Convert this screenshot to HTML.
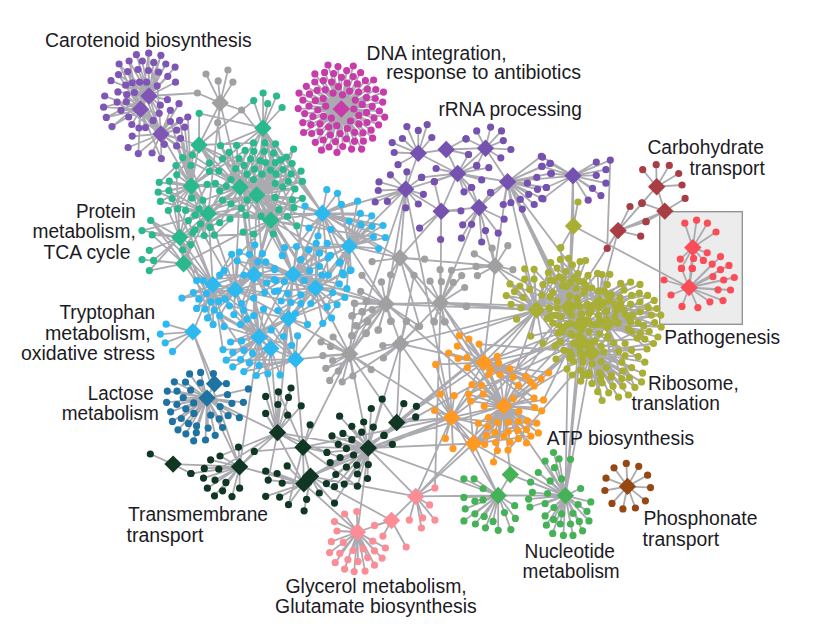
<!DOCTYPE html><html><head><meta charset="utf-8"><title>network</title>
<style>html,body{margin:0;padding:0;background:#fff}svg{display:block}text{font-family:"Liberation Sans",sans-serif;font-size:19.4px;fill:#1c1a24}</style></head><body>
<svg width="828" height="639" viewBox="0 0 828 639">
<rect width="828" height="639" fill="#fff"/>
<rect x="659.7" y="211.7" width="82.6" height="112.6" fill="#ececec" stroke="#8e8e8e" stroke-width="1.3"/>
<path d="M149.0 96.0L136.4 54.7M149.0 96.0L148.7 53.2M149.0 96.0L160.9 55.3M149.0 96.0L119.1 64.0M149.0 96.0L129.1 61.0M149.0 96.0L142.3 61.0M149.0 96.0L153.7 62.4M149.0 96.0L165.8 64.0M149.0 96.0L175.1 67.1M149.0 96.0L118.5 74.6M149.0 96.0L127.7 71.6M149.0 96.0L137.9 69.5M149.0 96.0L148.5 70.5M149.0 96.0L158.6 72.2M149.0 96.0L167.8 76.3M149.0 96.0L175.5 82.2M149.0 96.0L111.0 80.7M149.0 96.0L125.6 85.2M149.0 96.0L132.2 82.8M149.0 96.0L139.5 82.2M149.0 96.0L146.6 82.2M149.0 96.0L157.2 85.8M149.0 96.0L117.9 91.9M149.0 96.0L126.7 94.6M149.0 96.0L134.4 92.5M149.0 96.0L167.4 99.7M149.0 96.0L160.3 105.2M140.5 109.3L104.7 96.0M140.5 109.3L117.1 102.1M140.5 109.3L126.3 101.7M140.5 109.3L103.6 107.2M140.5 109.3L121.0 110.3M140.5 109.3L106.3 117.4M140.5 109.3L112.0 126.6M140.5 109.3L128.7 117.0M140.5 109.3L131.8 124.5M140.5 109.3L138.9 128.0M140.5 109.3L145.4 127.6M140.5 109.3L159.2 113.3M140.5 109.3L153.1 120.4M161.0 134.0L179.0 103.7M161.0 134.0L170.4 110.3M161.0 134.0L187.8 117.0M161.0 134.0L170.4 121.5M161.0 134.0L179.6 120.4M161.0 134.0L184.7 127.2M161.0 134.0L176.6 130.2M161.0 134.0L180.6 138.4M161.0 134.0L176.6 145.9M161.0 134.0L164.3 144.3M161.0 134.0L132.2 136.1M161.0 134.0L128.1 147.5M161.0 134.0L138.3 153.6M161.0 134.0L152.1 153.0M161.0 134.0L161.3 158.7M191.3 186.0L187.8 117.0M191.3 186.0L179.6 120.4M191.3 186.0L184.7 127.2M191.3 186.0L180.6 138.4M191.3 186.0L176.6 145.9M191.3 186.0L170.4 121.5M149.0 96.0L197.4 93.0M241.6 110.0L322.4 213.3M217.7 122.7L220.6 145.7M263.0 128.0L220.6 145.7M220.2 102.9L206.0 74.0M220.2 102.9L227.9 70.0M220.2 102.9L218.2 80.9M220.2 102.9L232.9 82.1M220.2 102.9L197.4 93.0M220.2 102.9L241.6 110.0M220.2 102.9L217.7 122.7M263.0 128.0L253.7 100.6M263.0 128.0L263.1 93.0M263.0 128.0L267.7 103.7M263.0 128.0L276.5 96.0M263.0 128.0L282.1 107.5M199.0 145.0L199.2 113.3M179.7 237.2L150.7 220.4M179.7 237.2L142.0 230.6M179.7 237.2L152.2 234.9M179.7 237.2L149.3 250.3M183.6 263.7L142.0 259.6M183.6 263.7L153.6 260.4M183.6 263.7L149.3 270.6M191.3 186.0L182.7 157.6M191.3 186.0L192.4 155.1M191.3 186.0L176.0 165.5M191.3 186.0L190.9 165.5M191.3 186.0L176.8 174.8M191.3 186.0L159.2 182.3M191.3 186.0L169.3 181.1M191.3 186.0L158.2 192.2M191.3 186.0L168.9 190.7M191.3 186.0L160.4 201.4M191.3 186.0L172.0 198.5M191.3 186.0L168.3 210.5M191.3 186.0L177.8 208.9M191.3 186.0L191.9 198.2M191.3 186.0L202.8 200.4M191.3 186.0L207.2 184.4M191.3 186.0L215.4 183.3M191.3 186.0L209.5 171.4M191.3 186.0L209.5 162.9M208.3 213.6L199.1 208.9M240.0 187.3L220.6 145.7M240.0 187.3L236.6 145.3M240.0 187.3L253.5 142.9M240.0 187.3L264.8 142.9M256.8 195.0L275.5 143.8M256.8 195.0L293.6 149.1M240.0 187.3L229.1 152.3M240.0 187.3L245.1 150.4M240.0 187.3L253.9 151.3M240.0 187.3L264.2 151.3M256.8 195.0L273.6 153.2M256.8 195.0L286.4 157.0M240.0 187.3L222.5 158.8M256.8 195.0L239.1 158.5M240.0 187.3L250.7 158.8M240.0 187.3L260.1 160.7M256.8 195.0L265.8 162.6M240.0 187.3L275.2 162.6M256.8 195.0L280.8 159.8M256.8 195.0L292.1 163.5M256.8 195.0L218.8 171.1M240.0 187.3L235.7 168.6M256.8 195.0L244.1 165.4M240.0 187.3L254.5 169.2M256.8 195.0L262.0 174.2M256.8 195.0L270.5 170.1M256.8 195.0L276.1 174.2M240.0 187.3L283.0 169.5M256.8 195.0L291.1 173.9M256.8 195.0L301.1 171.1M240.0 187.3L231.0 179.5M240.0 187.3L247.0 174.2M240.0 187.3L253.5 179.5M256.8 195.0L275.2 183.3M256.8 195.0L288.3 181.4M256.8 195.0L302.4 181.4M240.0 187.3L226.3 186.1M240.0 187.3L219.7 190.8M256.8 195.0L282.7 187.0M256.8 195.0L294.9 188.9M240.0 187.3L222.5 200.2M240.0 187.3L231.0 203.9M240.0 187.3L247.0 200.2M256.8 195.0L275.2 197.4M270.8 220.3L292.4 199.8M270.8 220.3L302.4 198.3M256.8 195.0L241.3 208.3M270.8 220.3L246.0 215.2M256.8 195.0L261.1 216.2M270.8 220.3L278.9 209.6M256.8 195.0L293.9 207.7M270.8 220.3L287.4 216.5M240.0 187.3L219.7 222.7M256.8 195.0L230.0 219.0M270.8 220.3L243.2 232.1M270.8 220.3L253.5 234.0M270.8 220.3L273.3 234.0M270.8 220.3L296.8 225.9M208.3 213.6L210.0 227.4M208.3 213.6L200.4 223.8M208.3 213.6L195.2 215.2M208.3 213.6L214.3 235.1M208.3 213.6L204.2 235.5M208.3 213.6L194.9 229.9M208.3 213.6L188.3 220.7M208.3 213.6L185.6 210.4M179.7 237.2L192.8 232.6M179.7 237.2L190.7 244.6M179.7 237.2L182.6 250.0M322.4 213.3L326.8 189.7M322.4 213.3L337.5 193.3M322.4 213.3L341.4 204.3M322.4 213.3L357.6 201.2M322.4 213.3L309.0 228.0M322.4 213.3L318.0 236.0M322.4 213.3L305.0 206.0M349.2 246.1L360.3 213.4M349.2 246.1L371.7 215.8M349.2 246.1L349.3 221.1M349.2 246.1L360.8 224.7M349.2 246.1L372.1 226.3M349.2 246.1L383.0 225.5M349.2 246.1L373.3 236.8M349.2 246.1L385.4 237.6M349.2 246.1L378.7 248.6M349.2 246.1L330.9 229.5M349.2 246.1L340.0 262.0M349.2 246.1L351.0 270.0M349.2 246.1L343.5 275.0M349.2 246.1L328.0 258.0M235.2 290.0L254.8 244.8M212.9 284.6L231.7 254.3M235.2 290.0L239.4 252.1M254.0 274.8L249.3 254.3M254.0 274.8L262.4 253.6M254.0 274.8L237.2 260.8M235.2 290.0L258.0 261.9M235.2 290.0L265.7 261.9M254.0 274.8L274.5 269.6M212.9 284.6L224.1 270.7M212.9 284.6L196.6 280.6M212.9 284.6L203.2 280.6M212.9 284.6L219.7 275.1M254.0 274.8L243.8 275.1M254.0 274.8L266.8 282.8M254.0 274.8L274.5 279.5M212.9 284.6L193.4 292.6M212.9 284.6L181.9 298.1M212.9 284.6L198.8 299.2M235.2 290.0L206.5 293.7M235.2 290.0L253.7 298.1M254.0 274.8L264.6 292.6M254.0 274.8L274.5 291.5M212.9 284.6L210.9 301.8M212.9 284.6L218.6 301.4M212.9 284.6L225.1 299.2M212.9 284.6L229.5 305.8M254.0 274.8L241.6 303.6M259.1 337.1L243.8 310.2M212.9 284.6L196.6 308.4M212.9 284.6L204.8 309.1M212.9 284.6L214.2 310.2M235.2 290.0L233.9 314.6M259.1 337.1L253.7 315.7M259.1 337.1L263.5 309.1M212.9 284.6L207.6 317.9M235.2 290.0L219.7 315.7M212.9 284.6L213.1 324.4M259.1 337.1L224.1 326.6M259.1 337.1L240.5 324.4M259.1 337.1L247.1 318.9M259.1 337.1L271.2 329.9M259.1 337.1L230.6 342.0M259.1 337.1L241.6 340.9M270.8 348.5L223.0 349.6M259.1 337.1L232.8 352.5M259.1 337.1L243.8 350.3M259.1 337.1L252.6 353.4M259.1 337.1L226.2 360.2M259.1 337.1L240.5 359.5M270.8 348.5L249.3 362.8M270.8 348.5L232.8 366.8M259.1 337.1L259.1 365.4M270.8 348.5L243.8 371.6M270.8 348.5L256.3 375.5M270.8 348.5L267.9 373.8M293.1 274.4L284.4 247.7M293.1 274.4L296.5 246.6M293.1 274.4L308.6 249.9M315.5 288.0L316.2 243.3M293.1 274.4L327.2 243.3M293.1 274.4L282.3 255.4M315.5 288.0L300.9 259.7M293.1 274.4L319.5 253.2M315.5 288.0L330.5 255.4M315.5 288.0L339.3 263.0M293.1 274.4L274.6 268.5M293.1 274.4L309.7 270.7M293.1 274.4L319.5 266.3M293.1 274.4L328.3 275.1M315.5 288.0L342.6 272.9M315.5 288.0L350.2 270.7M293.1 274.4L275.7 280.6M293.1 274.4L284.4 281.7M315.5 288.0L304.2 280.6M315.5 288.0L321.7 275.1M293.1 274.4L339.3 283.9M315.5 288.0L346.9 288.7M293.1 274.4L277.9 290.9M288.5 318.6L287.7 293.7M293.1 274.4L300.9 294.8M293.1 274.4L332.7 292.6M293.1 274.4L344.8 297.5M293.1 274.4L281.2 301.0M293.1 274.4L291.0 302.5M288.5 318.6L300.9 303.6M315.5 288.0L310.8 303.6M315.5 288.0L327.2 306.9M315.5 288.0L337.1 304.7M288.5 318.6L277.9 310.6M288.5 318.6L295.4 313.5M315.5 288.0L331.6 317.9M288.5 318.6L307.5 324.4M315.5 288.0L322.8 323.3M288.5 318.6L283.4 336.5M295.5 359.4L297.6 335.8M288.5 318.6L291.7 345.3M288.5 318.6L280.1 374.9M192.9 331.8L166.1 324.2M192.9 331.8L160.3 334.1M192.9 331.8L165.2 342.8M192.9 331.8L172.5 351.4M341.3 109.0L353.8 109.0M341.3 109.0L331.4 118.1M341.3 109.0L342.5 94.8M341.3 109.0L350.5 121.0M341.3 109.0L325.7 106.2M341.3 109.0L355.3 100.1M341.3 109.0L336.8 125.7M341.3 109.0L333.0 93.1M341.3 109.0L358.8 115.4M341.3 109.0L323.5 116.3M341.3 109.0L349.7 91.1M341.3 109.0L347.4 128.5M341.3 109.0L323.2 98.5M341.3 109.0L362.3 104.4M341.3 109.0L328.6 127.0M341.3 109.0L338.4 86.6M341.3 109.0L359.0 123.9M341.3 109.0L317.7 110.0M341.3 109.0L358.4 92.0M341.3 109.0L340.2 133.6M341.3 109.0L325.2 89.8M341.3 109.0L366.6 112.4M341.3 109.0L320.0 123.8M341.3 109.0L347.1 83.2M341.3 109.0L354.7 132.3M341.3 109.0L315.3 100.7M341.3 109.0L366.5 97.4M341.3 109.0L330.4 135.0M341.3 109.0L331.6 82.1M341.3 109.0L367.0 122.5M341.3 109.0L312.9 116.5M341.3 109.0L357.4 83.9M341.3 109.0L346.4 138.8M341.3 109.0L317.1 90.3M341.3 109.0L372.2 106.4M341.3 109.0L320.0 132.0M341.3 109.0L341.5 77.3M341.3 109.0L362.9 132.8M341.3 109.0L309.0 106.0M341.3 109.0L367.4 89.2M341.3 109.0L335.4 141.6M341.3 109.0L323.4 80.6M341.3 109.0L374.0 118.0M341.3 109.0L310.8 124.6M341.3 109.0L353.3 76.6M341.3 109.0L354.5 141.3M341.3 109.0L309.5 93.9M341.3 109.0L375.3 98.5M341.3 109.0L323.1 140.0M341.3 109.0L333.7 73.6M341.3 109.0L371.1 130.2M341.3 109.0L304.7 113.6M341.3 109.0L365.4 80.7M341.3 109.0L342.7 146.5M341.3 109.0L314.8 82.0M341.3 109.0L379.4 111.0M341.3 109.0L311.7 133.5M341.3 109.0L346.7 70.6M341.3 109.0L363.4 141.2M341.3 109.0L302.9 100.2M341.3 109.0L375.8 89.5M341.3 109.0L329.0 147.0M341.3 109.0L324.6 72.4M341.3 109.0L378.6 124.8M341.3 109.0L302.8 122.6M341.3 109.0L360.6 72.7M341.3 109.0L351.6 149.1M341.3 109.0L306.3 86.3M341.3 109.0L382.7 102.1M341.3 109.0L315.3 142.3M341.3 109.0L338.0 66.6M341.3 109.0L372.6 138.2M341.3 109.0L298.2 108.6M341.3 109.0L373.6 80.0M341.3 109.0L337.0 152.4M341.3 109.0L314.9 73.9M341.3 109.0L384.7 117.1M341.3 109.0L303.6 132.5M341.3 109.0L353.3 66.0M341.3 109.0L361.6 149.1M341.3 109.0L299.0 93.1M341.3 109.0L383.5 92.1M341.3 109.0L321.5 150.2M341.3 109.0L328.0 65.0M207.0 398.1L189.6 373.9M207.0 398.1L200.6 372.4M207.0 398.1L174.3 381.8M207.0 398.1L185.5 382.2M207.0 398.1L200.3 382.8M207.0 398.1L167.3 391.1M207.0 398.1L177.0 391.1M207.0 398.1L190.7 390.2M207.0 398.1L227.5 394.7M207.0 398.1L248.4 388.9M207.0 398.1L183.2 397.7M207.0 398.1L166.6 402.3M207.0 398.1L176.9 404.5M207.0 398.1L193.7 402.9M207.0 398.1L231.9 403.3M207.0 398.1L243.4 402.3M207.0 398.1L220.1 406.6M207.0 398.1L170.6 411.8M207.0 398.1L185.8 408.8M207.0 398.1L193.9 413.4M207.0 398.1L210.7 415.2M207.0 398.1L228.1 415.7M207.0 398.1L239.4 417.7M207.0 398.1L219.2 418.9M207.0 398.1L181.3 418.5M207.0 398.1L172.4 421.4M207.0 398.1L188.4 423.4M207.0 398.1L196.6 425.9M207.0 398.1L208.1 428.1M207.0 398.1L222.6 427.5M207.0 398.1L178.0 429.8M207.0 398.1L185.9 433.8M207.0 398.1L196.3 432.7M207.0 398.1L215.2 435.3M207.0 398.1L193.7 440.8M207.0 398.1L205.5 440.0M214.5 383.7L213.4 373.6M214.5 383.7L226.4 383.7M627.5 486.4L626.3 463.4M627.5 486.4L638.7 466.3M627.5 486.4L647.6 475.2M627.5 486.4L650.5 487.6M627.5 486.4L645.4 500.8M627.5 486.4L635.4 508.0M627.5 486.4L622.9 508.9M627.5 486.4L612.0 503.4M627.5 486.4L604.9 490.5M627.5 486.4L606.0 478.2M627.5 486.4L614.0 467.8M418.3 153.3L406.9 126.6M418.3 153.3L418.3 130.4M418.3 153.3L427.2 124.6M418.3 153.3L431.8 137.5M418.3 153.3L402.4 138.5M418.3 153.3L392.2 142.6M418.3 153.3L394.2 152.5M418.3 153.3L398.0 164.7M446.2 149.5L466.0 138.8M446.2 149.5L468.5 154.5M485.5 148.2L476.7 130.9M485.5 148.2L490.6 127.1M485.5 148.2L501.5 130.9M485.5 148.2L503.3 140.6M485.5 148.2L510.9 149.5M485.5 148.2L500.8 157.8M485.5 148.2L476.7 165.9M485.5 148.2L466.0 138.8M457.6 173.5L436.1 168.5M457.6 173.5L421.6 177.4M457.6 173.5L434.3 181.7M457.6 173.5L476.7 165.4M457.6 173.5L488.8 167.7M457.6 173.5L481.7 179.9M457.6 173.5L471.6 187.5M457.6 173.5L464.0 191.8M457.6 173.5L468.5 154.5M405.7 189.3L390.4 174.8M405.7 189.3L379.0 181.9M405.7 189.3L378.3 190.5M405.7 189.3L375.2 202.0M405.7 189.3L387.4 201.4M405.7 189.3L405.7 207.8M405.7 189.3L418.3 204.0M405.7 189.3L423.4 194.3M405.7 189.3L406.9 171.8M405.7 189.3L421.6 177.4M507.6 181.7L541.3 156.3M507.6 181.7L550.2 163.4M507.6 181.7L541.8 166.4M507.6 181.7L550.7 173.5M507.6 181.7L536.8 177.4M507.6 181.7L546.4 187.5M507.6 181.7L527.4 183.2M507.6 181.7L537.5 189.3M507.6 181.7L528.7 194.3M507.6 181.7L541.8 198.4M507.6 181.7L520.3 199.4M507.6 181.7L534.2 204.5M507.6 181.7L522.3 209.1M507.6 181.7L510.9 202.7M507.6 181.7L503.3 204.5M507.6 181.7L490.6 192.6M441.2 211.2L419.6 228.1M441.2 211.2L440.6 239.5M441.2 211.2L460.9 210.8M441.2 211.2L434.3 181.7M479.0 207.5L462.7 224.8M479.0 207.5L461.4 238.2M479.0 207.5L471.6 224.3M479.0 207.5L481.7 242.0M479.0 207.5L485.5 230.6M479.0 207.5L498.2 233.1M479.0 207.5L504.1 219.2M479.0 207.5L490.6 192.6M479.0 207.5L471.6 187.5M573.0 175.8L542.5 157.1M573.0 175.8L550.1 163.4M573.0 175.8L542.0 166.4M573.0 175.8L551.4 173.5M573.0 175.8L546.3 187.5M573.0 175.8L543.0 198.9M573.0 175.8L596.3 162.1M573.0 175.8L610.3 160.1M573.0 175.8L605.9 169.7M573.0 175.8L596.3 175.3M573.0 175.8L605.9 183.2M573.0 175.8L592.5 188.3M573.0 175.8L600.9 195.6M573.0 175.8L588.2 200.2M573.5 226.0L578.0 202.0M573.5 226.0L560.8 247.6M656.7 186.7L642.7 169.7M656.7 186.7L656.2 164.7M656.7 186.7L669.3 165.4M656.7 186.7L678.7 173.5M656.7 186.7L682.0 185.0M656.7 186.7L642.0 203.2M664.8 211.1L685.1 198.4M664.8 211.1L642.0 203.2M664.8 211.1L646.0 221.7M618.1 230.6L630.0 206.5M618.1 230.6L642.0 203.2M618.1 230.6L646.0 221.7M618.1 230.6L640.7 236.2M618.1 230.6L607.2 248.4M692.8 247.6L684.8 223.2M692.8 247.6L696.6 220.2M692.8 247.6L707.4 223.2M692.8 247.6L716.0 232.0M692.8 247.6L707.2 252.8M692.8 247.6L680.3 259.1M692.8 247.6L693.6 258.4M692.8 247.6L703.4 260.4M692.8 247.6L681.5 268.4M692.8 247.6L692.3 268.4M689.1 287.5L720.5 256.6M689.1 287.5L712.2 264.1M689.1 287.5L720.5 269.7M689.1 287.5L729.0 265.4M689.1 287.5L712.9 276.7M689.1 287.5L723.7 280.0M689.1 287.5L734.3 277.5M689.1 287.5L718.0 289.8M689.1 287.5L730.5 290.0M689.1 287.5L709.9 301.8M689.1 287.5L723.0 300.6M689.1 287.5L697.9 307.6M689.1 287.5L682.0 306.4M689.1 287.5L671.0 295.0M689.1 287.5L664.0 280.0M689.1 287.5L681.5 268.4M689.1 287.5L692.3 268.4M400.0 257.8L372.1 261.6M400.0 257.8L424.6 259.1M400.0 257.8L390.6 274.8M400.0 257.8L414.0 275.3M386.1 304.0L362.0 275.3M386.1 304.0L360.7 291.3M386.1 304.0L354.4 303.2M386.1 304.0L366.3 301.4M386.1 304.0L362.0 311.6M386.1 304.0L372.1 309.6M386.1 304.0L351.8 315.9M386.1 304.0L367.8 321.2M386.1 304.0L356.9 326.0M386.1 304.0L378.5 329.9M386.1 304.0L365.8 333.7M386.1 304.0L351.8 335.7M386.1 304.0L391.2 321.2M386.1 304.0L406.4 321.2M386.1 304.0L419.6 326.3M386.1 304.0L381.5 281.9M440.6 302.7L440.1 269.7M440.6 302.7L451.5 270.3M440.6 302.7L461.7 275.6M440.6 302.7L430.0 281.2M440.6 302.7L441.4 281.7M440.6 302.7L453.3 282.4M440.6 302.7L464.7 287.5M440.6 302.7L466.7 306.0M440.6 302.7L433.8 321.2M440.6 302.7L444.4 321.7M495.0 266.0L474.3 253.8M495.0 266.0L492.1 248.2M495.0 266.0L507.8 245.7M495.0 266.0L476.1 266.4M495.0 266.0L477.4 275.6M495.0 266.0L512.9 269.7M400.5 343.8L406.4 321.3M400.5 343.8L418.2 326.7M400.5 343.8L382.8 345.5M400.5 343.8L383.4 358.0M349.6 354.0L333.1 337.0M349.6 354.0L321.0 341.8M349.6 354.0L330.6 346.4M349.6 354.0L322.9 355.7M349.6 354.0L332.6 360.5M349.6 354.0L325.8 368.3M349.6 354.0L338.4 371.2M349.6 354.0L329.7 380.4M349.6 354.0L342.2 381.8M349.6 354.0L352.9 376.0M349.6 354.0L371.2 369.6M349.6 354.0L351.9 335.8M349.6 354.0L366.4 332.9M386.1 304.0L354.8 303.5M386.1 304.0L366.4 301.6M386.1 304.0L352.5 315.7M386.1 304.0L362.5 312.2M386.1 304.0L355.7 325.7M386.1 304.0L367.3 321.9M386.1 304.0L378.0 330.2M386.1 304.0L390.5 321.3M440.6 302.7L434.4 321.9M440.6 302.7L445.2 321.9M440.6 302.7L466.3 306.4M173.1 464.1L150.3 454.0M173.1 464.1L190.9 473.5M239.6 466.7L190.9 473.5M239.6 466.7L238.5 447.1M239.6 466.7L254.3 451.4M239.6 466.7L220.0 456.0M239.6 466.7L210.6 459.8M239.6 466.7L204.3 468.4M239.6 466.7L218.8 469.2M239.6 466.7L203.5 478.1M239.6 466.7L215.0 480.1M239.6 466.7L225.9 482.4M239.6 466.7L207.4 488.2M239.6 466.7L222.6 490.8M239.6 466.7L214.5 495.8M239.6 466.7L232.0 496.6M239.6 466.7L239.6 488.2M277.5 432.6L265.7 396.4M277.5 432.6L278.4 391.8M277.5 432.6L291.0 388.0M277.5 432.6L288.5 397.4M277.5 432.6L277.9 404.5M277.5 432.6L265.7 413.4M277.5 432.6L287.7 415.2M277.5 432.6L301.2 405.8M303.0 447.2L310.1 424.8M303.8 483.7L265.7 471.2M303.8 483.7L277.1 473.5M303.8 483.7L287.2 465.9M303.8 483.7L268.2 480.1M303.8 483.7L282.2 483.1M303.8 483.7L265.7 496.3M303.8 483.7L279.6 497.1M303.8 483.7L288.5 504.7M310.5 476.3L319.3 493.0M310.5 476.3L304.1 510.8M310.5 476.3L334.5 503.1M310.5 476.3L306.6 499.3M368.3 448.1L339.6 416.2M368.3 448.1L351.8 426.3M368.3 448.1L363.7 422.0M368.3 448.1L373.3 427.1M368.3 448.1L332.0 435.9M368.3 448.1L342.9 433.4M368.3 448.1L361.7 432.1M368.3 448.1L351.8 439.7M368.3 448.1L338.3 444.3M368.3 448.1L346.4 448.6M368.3 448.1L326.9 452.4M368.3 448.1L353.5 455.0M368.3 448.1L340.1 457.5M368.3 448.1L330.2 462.6M368.3 448.1L346.4 467.1M368.3 448.1L356.8 465.1M368.3 448.1L368.3 464.6M368.3 448.1L335.8 474.5M368.3 448.1L357.4 474.0M368.3 448.1L367.5 478.5M368.3 448.1L326.4 483.6M368.3 448.1L334.5 486.7M368.3 448.1L344.2 484.1M368.3 448.1L357.4 486.2M368.3 448.1L384.0 435.4M368.3 448.1L392.4 444.3M368.3 448.1L371.3 408.5M368.3 448.1L382.2 399.2M396.7 422.5L403.8 403.7M396.7 422.5L416.4 406.3M396.7 422.5L415.7 416.9M396.7 422.5L384.0 435.4M483.9 362.6L459.3 335.7M483.9 362.6L468.9 339.0M483.9 362.6L479.1 344.1M483.9 362.6L457.3 346.1M483.9 362.6L448.7 353.0M483.9 362.6L458.0 358.5M483.9 362.6L466.9 357.5M483.9 362.6L435.7 364.4M483.9 362.6L467.4 367.7M483.9 362.6L497.4 356.3M483.9 362.6L498.6 363.1M483.9 362.6L491.0 369.5M483.9 362.6L489.0 374.5M483.9 362.6L499.9 374.5M483.9 362.6L510.0 368.9M483.9 362.6L513.3 377.1M483.9 362.6L526.0 376.3M483.9 362.6L518.4 385.4M483.9 362.6L530.3 381.6M483.9 362.6L534.1 385.9M483.9 362.6L541.0 379.1M483.9 362.6L548.6 372.8M503.7 405.9L472.0 384.7M503.7 405.9L481.6 385.4M503.7 405.9L468.7 394.1M503.7 405.9L483.4 394.1M503.7 405.9L470.7 401.2M503.7 405.9L484.2 406.2M503.7 405.9L513.3 398.6M503.7 405.9L534.1 398.1M503.7 405.9L543.5 399.9M503.7 405.9L534.6 407.5M503.7 405.9L541.7 410.8M503.7 405.9L518.9 411.3M503.7 405.9L488.5 417.6M503.7 405.9L478.3 423.5M503.7 405.9L487.7 426.5M503.7 405.9L497.4 422.7M503.7 405.9L508.3 422.2M503.7 405.9L518.4 421.4M503.7 405.9L527.3 420.9M503.7 405.9L536.7 423.2M503.7 405.9L486.4 435.4M503.7 405.9L494.8 432.4M503.7 405.9L503.7 436.2M503.7 405.9L508.3 431.6M503.7 405.9L517.6 430.3M503.7 405.9L526.5 429.6M503.7 405.9L538.4 432.9M503.7 405.9L530.8 436.2M503.7 405.9L484.7 444.3M503.7 405.9L495.6 442.5M503.7 405.9L510.0 442.2M503.7 405.9L518.4 438.7M503.7 405.9L526.5 443.0M503.7 405.9L497.4 450.6M503.7 405.9L508.0 450.1M503.7 405.9L493.5 462.0M451.5 417.4L440.3 394.1M451.5 417.4L454.2 395.6M451.5 417.4L434.5 410.5M451.5 417.4L445.4 438.4M451.5 417.4L453.0 448.6M415.8 496.4L434.9 487.9M415.8 496.4L429.6 504.9M415.8 496.4L422.7 517.8M415.8 496.4L434.9 520.1M415.8 496.4L409.3 520.1M415.8 496.4L421.4 528.0M391.5 520.5L374.5 525.4M391.5 520.5L406.2 547.0M391.5 520.5L382.9 536.1M357.5 532.0L344.6 514.0M357.5 532.0L356.8 511.5M357.5 532.0L334.5 521.6M357.5 532.0L337.0 531.0M357.5 532.0L331.4 541.7M357.5 532.0L343.3 542.4M357.5 532.0L329.6 552.6M357.5 532.0L339.8 553.3M357.5 532.0L353.0 550.5M357.5 532.0L363.1 548.8M357.5 532.0L372.8 541.2M357.5 532.0L385.4 548.0M357.5 532.0L374.5 550.8M357.5 532.0L335.2 562.7M357.5 532.0L347.9 559.7M357.5 532.0L358.0 561.4M357.5 532.0L367.7 557.6M357.5 532.0L382.1 558.1M357.5 532.0L374.5 565.2M357.5 532.0L344.6 569.1M357.5 532.0L354.2 571.6M357.5 532.0L365.1 571.1M565.4 495.6L553.5 452.5M565.4 495.6L559.1 458.8M565.4 495.6L570.5 459.3M565.4 495.6L545.1 461.1M565.4 495.6L554.5 467.7M565.4 495.6L538.3 472.5M565.4 495.6L530.6 482.1M565.4 495.6L550.2 480.9M565.4 495.6L561.6 478.8M565.4 495.6L580.6 488.5M565.4 495.6L532.4 492.3M565.4 495.6L547.6 493.5M565.4 495.6L528.6 499.1M565.4 495.6L545.1 503.7M565.4 495.6L590.8 501.9M565.4 495.6L529.9 507.0M565.4 495.6L554.0 507.5M565.4 495.6L578.1 504.5M565.4 495.6L587.0 511.3M565.4 495.6L545.1 515.9M565.4 495.6L561.6 513.8M565.4 495.6L573.0 513.3M565.4 495.6L553.5 519.4M565.4 495.6L589.0 520.9M565.4 495.6L546.4 525.2M565.4 495.6L560.3 524.0M565.4 495.6L570.5 524.0M565.4 495.6L579.3 521.4M565.4 495.6L552.7 533.4M565.4 495.6L563.4 535.4M565.4 495.6L573.0 535.4M565.4 495.6L582.6 530.8M498.2 495.5L463.9 478.8M498.2 495.5L474.1 478.8M498.2 495.5L483.0 488.5M498.2 495.5L463.9 497.4M498.2 495.5L474.9 501.2M498.2 495.5L483.0 499.9M498.2 495.5L465.2 508.8M498.2 495.5L474.9 513.8M498.2 495.5L484.2 516.4M498.2 495.5L463.9 520.9M498.2 495.5L475.4 524.0M498.2 495.5L485.5 527.8M498.2 495.5L493.1 521.4M498.2 495.5L504.5 512.6M498.2 495.5L514.7 505.7M498.2 495.5L515.4 518.4M498.2 495.5L498.2 530.3M498.2 495.5L510.9 529.6M568.8 307.2L560.4 247.8M536.6 310.0L550.6 262.7M568.8 307.2L560.4 259.4M568.8 307.2L568.5 258.3M568.8 307.2L580.1 261.6M568.8 307.2L585.6 260.5M536.6 310.0L524.7 268.8M536.6 310.0L534.1 269.3M536.6 310.0L548.4 272.6M568.8 307.2L557.1 268.2M568.8 307.2L565.9 271.5M568.8 307.2L572.4 264.9M568.8 307.2L577.9 273.7M536.6 310.0L524.7 279.1M536.6 310.0L534.1 279.1M536.6 310.0L550.1 280.2M568.8 307.2L559.3 276.9M568.8 307.2L570.3 282.4M568.8 307.2L579.0 281.3M536.6 310.0L510.0 283.9M536.6 310.0L519.9 286.1M536.6 310.0L529.7 289.4M536.6 310.0L542.9 284.6M568.8 307.2L552.7 292.3M568.8 307.2L562.6 285.7M568.8 307.2L584.5 290.1M536.6 310.0L506.3 295.6M536.6 310.0L514.4 291.6M536.6 310.0L523.2 297.3M536.6 310.0L541.8 294.9M568.8 307.2L557.1 301.0M536.6 310.0L511.1 304.3M536.6 310.0L521.0 308.0M536.6 310.0L549.5 308.7M536.6 310.0L516.6 319.2M536.6 310.0L547.3 318.5M568.8 307.2L556.0 315.3M581.4 341.4L552.7 322.9M581.4 341.4L563.7 327.3M536.6 310.0L530.8 336.1M581.4 341.4L558.2 332.8M581.4 341.4L572.4 335.0M536.6 310.0L542.9 343.3M581.4 341.4L554.9 345.9M581.4 341.4L573.5 343.7M581.4 341.4L556.0 359.0M581.4 341.4L571.4 355.1M581.4 341.4L582.3 356.9M581.4 341.4L567.0 368.9M581.4 341.4L584.5 374.4M599.2 303.4L602.1 274.6M599.2 303.4L620.7 283.3M599.2 303.4L630.6 282.2M599.2 303.4L640.0 284.4M599.2 303.4L604.3 291.0M599.2 303.4L611.3 294.3M599.2 303.4L624.0 289.9M599.2 303.4L631.6 295.4M599.2 303.4L639.3 293.2M599.2 303.4L647.6 295.4M606.8 323.7L654.2 300.4M606.8 323.7L609.7 300.8M606.8 323.7L620.7 303.0M606.8 323.7L630.6 304.1M606.8 323.7L640.0 301.9M606.8 323.7L648.1 307.4M606.8 323.7L656.8 308.5M606.8 323.7L616.3 310.7M606.8 323.7L625.1 314.0M606.8 323.7L632.7 315.1M606.8 323.7L640.4 311.8M606.8 323.7L651.4 315.1M606.8 323.7L660.8 315.1M606.8 323.7L630.6 321.6M606.8 323.7L638.2 322.7M606.8 323.7L643.7 326.0M606.8 323.7L654.6 322.7M606.8 323.7L661.2 327.1M606.8 323.7L631.6 331.5M606.8 323.7L640.4 333.7M606.8 323.7L649.2 331.5M606.8 323.7L657.9 337.0M606.8 323.7L637.1 338.1M606.8 323.7L644.8 339.2M606.8 323.7L653.5 343.5M591.6 352.9L647.0 349.0M606.8 323.7L625.1 343.5M591.6 352.9L631.6 350.1M591.6 352.9L638.2 356.7M591.6 352.9L644.8 362.2M591.6 352.9L618.5 351.2M591.6 352.9L625.1 355.6M591.6 352.9L631.6 367.6M591.6 352.9L642.6 373.1M591.6 352.9L641.5 381.9M591.6 352.9L621.8 362.2M591.6 352.9L622.9 370.9M591.6 352.9L629.5 377.5M591.6 352.9L634.9 387.3M591.6 352.9L621.8 378.6M591.6 352.9L583.5 375.3M591.6 352.9L588.9 375.3M591.6 352.9L601.0 375.3M591.6 352.9L610.8 377.5M591.6 352.9L602.1 383.0M591.6 352.9L613.0 386.2M591.6 352.9L622.9 386.2M591.6 352.9L597.7 391.7M591.6 352.9L608.7 392.8M591.6 352.9L618.5 397.2M591.6 352.9L628.4 395.0M591.6 352.9L602.1 400.5M568.8 307.2L580.1 306.5M568.8 307.2L561.3 316.5M568.8 307.2L557.2 307.9M568.8 307.2L569.8 295.9M568.8 307.2L577.2 297.9M568.8 307.2L588.8 312.9M568.8 307.2L584.3 320.9M568.8 307.2L576.8 326.0M568.8 307.2L550.9 316.1M568.8 307.2L549.0 307.6M568.8 307.2L550.3 296.6M568.8 307.2L566.6 286.4M568.8 307.2L576.1 288.5M568.8 307.2L583.8 292.7M568.8 307.2L554.0 280.6M568.8 307.2L562.7 278.6M568.8 307.2L573.9 277.9M568.8 307.2L583.6 282.2M568.8 307.2L591.9 288.0M599.2 303.4L606.9 310.7M599.2 303.4L598.4 315.3M599.2 303.4L590.9 311.5M599.2 303.4L587.3 304.1M599.2 303.4L598.6 290.9M599.2 303.4L607.7 295.1M599.2 303.4L620.6 308.3M599.2 303.4L614.9 317.4M599.2 303.4L606.5 323.1M599.2 303.4L597.7 324.7M599.2 303.4L588.3 320.1M599.2 303.4L581.7 314.0M599.2 303.4L586.2 285.5M599.2 303.4L607.3 284.7M599.2 303.4L620.0 297.5M599.2 303.4L588.0 275.4M599.2 303.4L597.6 273.4M599.2 303.4L609.8 274.3M580.2 325.0L592.2 324.6M580.2 325.0L570.6 333.6M580.2 325.0L567.0 324.6M580.2 325.0L571.7 315.5M580.2 325.0L580.9 314.1M580.2 325.0L587.1 343.7M580.2 325.0L578.7 346.6M580.2 325.0L559.4 325.5M580.2 325.0L577.5 303.1M580.2 325.0L588.0 306.1M580.2 325.0L599.5 320.8M581.4 341.4L593.0 341.5M581.4 341.4L589.3 349.0M581.4 341.4L580.8 352.5M581.4 341.4L580.9 330.0M581.4 341.4L601.0 346.1M581.4 341.4L569.6 357.9M581.4 341.4L563.8 350.2M581.4 341.4L560.2 341.4M581.4 341.4L562.5 331.7M581.4 341.4L570.6 323.7M581.4 341.4L579.4 320.9M581.4 341.4L588.5 320.7M606.8 323.7L618.2 322.9M606.8 323.7L607.7 336.1M606.8 323.7L606.0 311.6M606.8 323.7L628.3 328.8M606.8 323.7L613.8 343.0M606.8 323.7L594.8 341.0M606.8 323.7L584.6 323.1M606.8 323.7L593.8 305.3M606.8 323.7L603.6 303.1M606.8 323.7L614.8 304.4M606.8 323.7L623.4 309.5M606.8 323.7L628.4 317.8M591.6 352.9L603.9 351.8M591.6 352.9L601.0 361.7M591.6 352.9L592.3 364.0M591.6 352.9L583.1 362.2M591.6 352.9L580.4 353.1M591.6 352.9L583.6 344.9M591.6 352.9L606.4 367.6M591.6 352.9L599.4 372.8M591.6 352.9L589.0 372.6M591.6 352.9L580.3 370.2M591.6 352.9L573.4 361.6M591.6 352.9L570.0 351.9M591.6 352.9L579.0 336.2M591.6 352.9L589.1 331.8M591.6 352.9L599.5 333.9M591.6 352.9L607.7 338.0M591.6 352.9L611.5 375.4M591.6 352.9L600.7 380.0M591.6 352.9L592.0 383.4M591.6 352.9L580.8 381.1M591.6 352.9L572.2 375.0M149.0 96.0L140.5 109.3M149.0 96.0L161.0 134.0M140.5 109.3L161.0 134.0M161.0 134.0L191.3 186.0M161.0 134.0L199.0 145.0M161.0 134.0L240.0 187.3M220.2 102.9L199.0 145.0M220.2 102.9L240.0 187.3M220.2 102.9L208.3 213.6M199.0 145.0L191.3 186.0M199.0 145.0L240.0 187.3M263.0 128.0L240.0 187.3M263.0 128.0L256.8 195.0M263.0 128.0L191.3 186.0M263.0 128.0L322.4 213.3M263.0 128.0L270.8 220.3M191.3 186.0L240.0 187.3M191.3 186.0L208.3 213.6M191.3 186.0L179.7 237.2M240.0 187.3L256.8 195.0M240.0 187.3L208.3 213.6M240.0 187.3L270.8 220.3M256.8 195.0L270.8 220.3M208.3 213.6L179.7 237.2M208.3 213.6L183.6 263.7M179.7 237.2L183.6 263.7M208.3 213.6L270.8 220.3M256.8 195.0L293.1 274.4M256.8 195.0L254.0 274.8M270.8 220.3L293.1 274.4M270.8 220.3L254.0 274.8M240.0 187.3L254.0 274.8M240.0 187.3L235.2 290.0M208.3 213.6L212.9 284.6M208.3 213.6L235.2 290.0M183.6 263.7L212.9 284.6M179.7 237.2L212.9 284.6M256.8 195.0L322.4 213.3M270.8 220.3L322.4 213.3M256.8 195.0L315.5 288.0M240.0 187.3L259.1 337.1M322.4 213.3L349.2 246.1M322.4 213.3L405.7 189.3M349.2 246.1L405.7 189.3M322.4 213.3L293.1 274.4M349.2 246.1L293.1 274.4M349.2 246.1L315.5 288.0M212.9 284.6L235.2 290.0M235.2 290.0L254.0 274.8M254.0 274.8L293.1 274.4M293.1 274.4L315.5 288.0M293.1 274.4L288.5 318.6M315.5 288.0L288.5 318.6M235.2 290.0L259.1 337.1M254.0 274.8L259.1 337.1M288.5 318.6L259.1 337.1M288.5 318.6L270.8 348.5M259.1 337.1L270.8 348.5M270.8 348.5L295.5 359.4M288.5 318.6L295.5 359.4M212.9 284.6L192.9 331.8M192.9 331.8L214.5 383.7M212.9 284.6L259.1 337.1M254.0 274.8L288.5 318.6M235.2 290.0L288.5 318.6M315.5 288.0L386.1 304.0M315.5 288.0L349.6 354.0M288.5 318.6L349.6 354.0M295.5 359.4L349.6 354.0M349.2 246.1L400.0 257.8M349.2 246.1L386.1 304.0M293.1 274.4L386.1 304.0M322.4 213.3L400.0 257.8M418.3 153.3L446.2 149.5M446.2 149.5L485.5 148.2M418.3 153.3L457.6 173.5M446.2 149.5L457.6 173.5M485.5 148.2L457.6 173.5M418.3 153.3L405.7 189.3M457.6 173.5L405.7 189.3M457.6 173.5L507.6 181.7M485.5 148.2L507.6 181.7M457.6 173.5L441.2 211.2M457.6 173.5L479.0 207.5M405.7 189.3L441.2 211.2M507.6 181.7L479.0 207.5M441.2 211.2L479.0 207.5M507.6 181.7L573.0 175.8M405.7 189.3L400.0 257.8M405.7 189.3L386.1 304.0M441.2 211.2L400.0 257.8M441.2 211.2L440.6 302.7M479.0 207.5L440.6 302.7M479.0 207.5L495.0 266.0M507.6 181.7L495.0 266.0M405.7 189.3L349.6 354.0M507.6 181.7L536.6 310.0M507.6 181.7L568.8 307.2M507.6 181.7L580.2 325.0M507.6 181.7L581.4 341.4M507.6 181.7L599.2 303.4M573.0 175.8L573.5 226.0M573.0 175.8L568.8 307.2M573.5 226.0L568.8 307.2M573.5 226.0L689.1 287.5M618.1 230.6L599.2 303.4M618.1 230.6L568.8 307.2M656.7 186.7L664.8 211.1M656.7 186.7L618.1 230.6M664.8 211.1L618.1 230.6M692.8 247.6L689.1 287.5M400.0 257.8L386.1 304.0M400.0 257.8L440.6 302.7M400.0 257.8L495.0 266.0M386.1 304.0L440.6 302.7M386.1 304.0L400.5 343.8M386.1 304.0L349.6 354.0M440.6 302.7L400.5 343.8M440.6 302.7L536.6 310.0M386.1 304.0L536.6 310.0M495.0 266.0L536.6 310.0M495.0 266.0L568.8 307.2M440.6 302.7L568.8 307.2M400.5 343.8L536.6 310.0M440.6 302.7L483.9 362.6M440.6 302.7L503.7 405.9M400.5 343.8L483.9 362.6M386.1 304.0L503.7 405.9M400.5 343.8L451.5 417.4M495.0 266.0L483.9 362.6M400.0 257.8L503.7 405.9M483.9 362.6L503.7 405.9M483.9 362.6L451.5 417.4M503.7 405.9L451.5 417.4M503.7 405.9L473.5 443.5M451.5 417.4L473.5 443.5M483.9 362.6L536.6 310.0M483.9 362.6L580.2 325.0M483.9 362.6L581.4 341.4M503.7 405.9L580.2 325.0M503.7 405.9L581.4 341.4M503.7 405.9L591.6 352.9M503.7 405.9L536.6 310.0M503.7 405.9L568.8 307.2M503.7 405.9L606.8 323.7M451.5 417.4L536.6 310.0M473.5 443.5L581.4 341.4M503.7 405.9L510.3 474.6M503.7 405.9L565.4 495.6M473.5 443.5L498.2 495.5M473.5 443.5L565.4 495.6M451.5 417.4L498.2 495.5M451.5 417.4L415.8 496.4M473.5 443.5L415.8 496.4M510.3 474.6L498.2 495.5M510.3 474.6L565.4 495.6M498.2 495.5L565.4 495.6M581.4 341.4L565.4 495.6M591.6 352.9L565.4 495.6M580.2 325.0L565.4 495.6M568.8 307.2L565.4 495.6M173.1 464.1L239.6 466.7M239.6 466.7L277.5 432.6M239.6 466.7L303.8 483.7M277.5 432.6L303.0 447.2M303.0 447.2L303.8 483.7M303.0 447.2L310.5 476.3M277.5 432.6L368.3 448.1M303.0 447.2L368.3 448.1M310.5 476.3L368.3 448.1M368.3 448.1L396.7 422.5M303.8 483.7L357.5 532.0M310.5 476.3L391.5 520.5M368.3 448.1L415.8 496.4M368.3 448.1L357.5 532.0M310.5 476.3L415.8 496.4M277.5 432.6L207.0 398.1M239.6 466.7L207.0 398.1M277.5 432.6L259.1 337.1M277.5 432.6L270.8 348.5M303.0 447.2L295.5 359.4M368.3 448.1L349.6 354.0M368.3 448.1L400.5 343.8M396.7 422.5L400.5 343.8M396.7 422.5L483.9 362.6M396.7 422.5L451.5 417.4M368.3 448.1L451.5 417.4M368.3 448.1L503.7 405.9M368.3 448.1L473.5 443.5M310.5 476.3L451.5 417.4M303.0 447.2L349.6 354.0M415.8 496.4L391.5 520.5M391.5 520.5L357.5 532.0M415.8 496.4L498.2 495.5M415.8 496.4L503.7 405.9M368.3 448.1L536.6 310.0M396.7 422.5L536.6 310.0M310.5 476.3L580.2 325.0M368.3 448.1L498.2 495.5M303.0 447.2L451.5 417.4M214.5 383.7L207.0 398.1M277.5 432.6L288.5 318.6M349.6 354.0L451.5 417.4M349.6 354.0L396.7 422.5M259.1 337.1L239.6 466.7M192.9 331.8L239.6 466.7M610.3 160.1L607.2 248.4M440.6 302.7L434.9 487.9M405.7 189.3L451.5 417.4M263.0 128.0L199.2 113.3M179.7 237.2L176.0 165.5M270.8 220.3L275.2 197.4M240.0 187.3L286.4 157.0M256.8 195.0L194.9 229.9M256.8 195.0L222.5 200.2M191.3 186.0L245.1 150.4M256.8 195.0L192.8 232.6M179.7 237.2L169.3 181.1M179.7 237.2L207.2 184.4M263.0 128.0L209.5 171.4M208.3 213.6L261.1 216.2M256.8 195.0L199.1 208.9M256.8 195.0L264.8 142.9M270.8 220.3L247.0 200.2M256.8 195.0L250.7 158.8M263.0 128.0L275.2 183.3M263.0 128.0L276.1 174.2M240.0 187.3L287.4 216.5M199.0 145.0L209.5 162.9M191.3 186.0L185.6 210.4M270.8 220.3L273.6 153.2M240.0 187.3L182.7 157.6M183.6 263.7L152.2 234.9M240.0 187.3L200.4 223.8M240.0 187.3L294.9 188.9M240.0 187.3L292.1 163.5M240.0 187.3L291.1 173.9M208.3 213.6L182.6 250.0M240.0 187.3L188.3 220.7M183.6 263.7L150.7 220.4M240.0 187.3L296.8 225.9M263.0 128.0L226.3 186.1M199.0 145.0L176.8 174.8M240.0 187.3L202.8 200.4M256.8 195.0L264.2 151.3M270.8 220.3L253.9 151.3M191.3 186.0L204.2 235.5M256.8 195.0L214.3 235.1M240.0 187.3L273.3 234.0M208.3 213.6L172.0 198.5M208.3 213.6L241.3 208.3M240.0 187.3L293.9 207.7M199.0 145.0L244.1 165.4M256.8 195.0L222.5 158.8M179.7 237.2L149.3 270.6M256.8 195.0L254.5 169.2M183.6 263.7L190.7 244.6M208.3 213.6L235.7 168.6M263.0 128.0L260.1 160.7M256.8 195.0L302.4 198.3M256.8 195.0L278.9 209.6M208.3 213.6L168.9 190.7M199.0 145.0L218.8 171.1M208.3 213.6L142.0 230.6M240.0 187.3L302.4 181.4M179.7 237.2L168.3 210.5M208.3 213.6L160.4 201.4M183.6 263.7L243.2 232.1M179.7 237.2L230.0 219.0M179.7 237.2L219.7 222.7M270.8 220.3L293.6 149.1M263.0 128.0L280.8 159.8M191.3 186.0L210.0 227.4M240.0 187.3L282.7 187.0M199.0 145.0L253.7 100.6M208.3 213.6L158.2 192.2M256.8 195.0L275.2 162.6M270.8 220.3L301.1 171.1M256.8 195.0L231.0 179.5M256.8 195.0L215.4 183.3M256.8 195.0L246.0 215.2M199.0 145.0L192.4 155.1M199.0 145.0L253.5 142.9M199.0 145.0L253.5 179.5M256.8 195.0L292.4 199.8M208.3 213.6L190.9 165.5M208.3 213.6L239.1 158.5M256.8 195.0L220.6 145.7M263.0 128.0L288.3 181.4M199.0 145.0L159.2 182.3M179.7 237.2L153.6 260.4M270.8 220.3L231.0 203.9M256.8 195.0L195.2 215.2M179.7 237.2L253.5 234.0M235.2 290.0L193.4 292.6M254.0 274.8L204.8 309.1M322.4 213.3L372.1 226.3M315.5 288.0L340.0 262.0M259.1 337.1L249.3 362.8M288.5 318.6L332.7 292.6M293.1 274.4L331.6 317.9M235.2 290.0L231.7 254.3M235.2 290.0L274.5 279.5M259.1 337.1L267.9 373.8M235.2 290.0L210.9 301.8M254.0 274.8L253.7 315.7M288.5 318.6L321.7 275.1M288.5 318.6L344.8 297.5M295.5 359.4L337.1 304.7M212.9 284.6L243.8 275.1M293.1 274.4L328.0 258.0M295.5 359.4L226.2 360.2M288.5 318.6L230.6 342.0M349.2 246.1L339.3 263.0M322.4 213.3L378.7 248.6M349.2 246.1L284.4 247.7M212.9 284.6L224.1 326.6M322.4 213.3L300.9 259.7M322.4 213.3L371.7 215.8M293.1 274.4L241.6 303.6M235.2 290.0L225.1 299.2M322.4 213.3L360.3 213.4M293.1 274.4L305.0 206.0M322.4 213.3L296.5 246.6M349.2 246.1L308.6 249.9M315.5 288.0L295.4 313.5M254.0 274.8L198.8 299.2M295.5 359.4L271.2 329.9M315.5 288.0L277.9 310.6M254.0 274.8L304.2 280.6M349.2 246.1L310.8 303.6M322.4 213.3L351.0 270.0M295.5 359.4L256.3 375.5M259.1 337.1L219.7 315.7M235.2 290.0L262.4 253.6M288.5 318.6L229.5 305.8M270.8 348.5L233.9 314.6M254.0 274.8L254.8 244.8M349.2 246.1L341.4 204.3M254.0 274.8L207.6 317.9M254.0 274.8L196.6 308.4M293.1 274.4L239.4 252.1M315.5 288.0L258.0 261.9M212.9 284.6L264.6 292.6M293.1 274.4L330.5 255.4M315.5 288.0L275.7 280.6M259.1 337.1L291.7 345.3M293.1 274.4L237.2 260.8M295.5 359.4L247.1 318.9M315.5 288.0L274.5 291.5M212.9 284.6L223.0 349.6M315.5 288.0L319.5 253.2M322.4 213.3L328.3 275.1M288.5 318.6L241.6 340.9M293.1 274.4L307.5 324.4M270.8 348.5L253.7 298.1M235.2 290.0L218.6 301.4M259.1 337.1L214.2 310.2M349.2 246.1L357.6 201.2M295.5 359.4L259.1 365.4M235.2 290.0L224.1 270.7M270.8 348.5L240.5 324.4M270.8 348.5L280.1 374.9M254.0 274.8L206.5 293.7M293.1 274.4L266.8 282.8M315.5 288.0L281.2 301.0M259.1 337.1L284.4 281.7M235.2 290.0L252.6 353.4M349.2 246.1L337.5 193.3M259.1 337.1L300.9 294.8M293.1 274.4L283.4 336.5M254.0 274.8L219.7 275.1M212.9 284.6L243.8 310.2M293.1 274.4L249.3 254.3M295.5 359.4L243.8 371.6M322.4 213.3L309.7 270.7M349.2 246.1L327.2 306.9M322.4 213.3L349.3 221.1M322.4 213.3L383.0 225.5M322.4 213.3L385.4 237.6M295.5 359.4L263.5 309.1M349.2 246.1L327.2 243.3M270.8 348.5L243.8 350.3M254.0 274.8L203.2 280.6M293.1 274.4L316.2 243.3M349.2 246.1L346.9 288.7M235.2 290.0L181.9 298.1M322.4 213.3L342.6 272.9M235.2 290.0L300.9 303.6M235.2 290.0L204.2 235.5M254.0 274.8L244.1 165.4M212.9 284.6L168.9 190.7M212.9 284.6L150.7 220.4M322.4 213.3L246.0 215.2M315.5 288.0L282.7 187.0M254.0 274.8L283.0 169.5M322.4 213.3L275.5 143.8M212.9 284.6L188.3 220.7M254.0 274.8L294.9 188.9M293.1 274.4L261.1 216.2M322.4 213.3L286.4 157.0M256.8 195.0L330.9 229.5M183.6 263.7L243.8 350.3M256.8 195.0L328.3 275.1M179.7 237.2L213.1 324.4M256.8 195.0L264.6 292.6M270.8 220.3L327.2 306.9M179.7 237.2L224.1 326.6M270.8 220.3L373.3 236.8M270.8 220.3L330.5 255.4M270.8 220.3L240.5 324.4M179.7 237.2L206.5 293.7M270.8 220.3L224.1 270.7M599.2 303.4L661.2 327.1M606.8 323.7L647.6 295.4M591.6 352.9L573.5 343.7M580.2 325.0L562.7 278.6M599.2 303.4L592.3 364.0M568.8 307.2L534.1 269.3M581.4 341.4L644.8 339.2M599.2 303.4L620.7 303.0M580.2 325.0L554.9 345.9M536.6 310.0L579.0 336.2M580.2 325.0L580.4 353.1M580.2 325.0L643.7 326.0M606.8 323.7L622.9 386.2M599.2 303.4L563.7 327.3M591.6 352.9L653.5 343.5M591.6 352.9L588.5 320.7M581.4 341.4L570.0 351.9M606.8 323.7L618.5 351.2M536.6 310.0L572.4 264.9M591.6 352.9L607.7 336.1M580.2 325.0L602.1 383.0M580.2 325.0L550.9 316.1M536.6 310.0L562.6 285.7M581.4 341.4L577.9 273.7M580.2 325.0L604.3 291.0M568.8 307.2L597.6 273.4M568.8 307.2L620.6 308.3M580.2 325.0L606.0 311.6M599.2 303.4L660.8 315.1M606.8 323.7L590.9 311.5M580.2 325.0L639.3 293.2M581.4 341.4L566.6 286.4M606.8 323.7L610.8 377.5M599.2 303.4L557.1 268.2M599.2 303.4L550.1 280.2M606.8 323.7L629.5 377.5M581.4 341.4L584.3 320.9M599.2 303.4L647.0 349.0M580.2 325.0L557.1 301.0M536.6 310.0L593.8 305.3M606.8 323.7L576.1 288.5M568.8 307.2L580.3 370.2M568.8 307.2L548.4 272.6M580.2 325.0L594.8 341.0M568.8 307.2L630.6 282.2M580.2 325.0L632.7 315.1M568.8 307.2L506.3 295.6M581.4 341.4L609.7 300.8M568.8 307.2L580.9 314.1M581.4 341.4L573.4 361.6M581.4 341.4L631.6 367.6M591.6 352.9L588.3 320.1M580.2 325.0L614.9 317.4M591.6 352.9L606.5 323.1M606.8 323.7L607.7 295.1M581.4 341.4L581.7 314.0M580.2 325.0L568.5 258.3M599.2 303.4L550.6 262.7M599.2 303.4L560.4 259.4M536.6 310.0L584.6 323.1M591.6 352.9L654.6 322.7M591.6 352.9L579.4 320.9M568.8 307.2L511.1 304.3M591.6 352.9L586.2 285.5M581.4 341.4L587.1 343.7M581.4 341.4L631.6 350.1M581.4 341.4L598.6 290.9M591.6 352.9L598.4 315.3M606.8 323.7L611.3 294.3M580.2 325.0L640.4 333.7M568.8 307.2L510.0 283.9M568.8 307.2L570.6 333.6M536.6 310.0L554.0 280.6M568.8 307.2L601.0 361.7M580.2 325.0L580.8 381.1M536.6 310.0L560.2 341.4M580.2 325.0L530.8 336.1M581.4 341.4L618.5 397.2M580.2 325.0L628.3 328.8M599.2 303.4L552.7 322.9M536.6 310.0L599.5 333.9M536.6 310.0L589.1 331.8M568.8 307.2L542.9 284.6M580.2 325.0L541.8 294.9M568.8 307.2L607.3 284.7M599.2 303.4L580.9 330.0M568.8 307.2L620.0 297.5M606.8 323.7L613.0 386.2M536.6 310.0L579.0 281.3M536.6 310.0L588.0 275.4M606.8 323.7L570.6 323.7M581.4 341.4L569.8 295.9M581.4 341.4L602.1 400.5M606.8 323.7L582.3 356.9M580.2 325.0L599.4 372.8M606.8 323.7L602.1 274.6M536.6 310.0L599.5 320.8M580.2 325.0L625.1 314.0M580.2 325.0L618.2 322.9M568.8 307.2L559.4 325.5M580.2 325.0L638.2 356.7M580.2 325.0L638.2 322.7M599.2 303.4L656.8 308.5M599.2 303.4L651.4 315.1M581.4 341.4L631.6 295.4M591.6 352.9L571.4 355.1M568.8 307.2L613.8 343.0M568.8 307.2L571.7 315.5M568.8 307.2L606.9 310.7M606.8 323.7L634.9 387.3M503.7 405.9L498.6 363.1M473.5 443.5L486.4 435.4M503.7 405.9L518.4 385.4M473.5 443.5L527.3 420.9M451.5 417.4L497.4 422.7M451.5 417.4L484.7 444.3M451.5 417.4L435.7 364.4M503.7 405.9L510.0 368.9M503.7 405.9L534.1 385.9M503.7 405.9L489.0 374.5M503.7 405.9L479.1 344.1M451.5 417.4L483.4 394.1M451.5 417.4L448.7 353.0M503.7 405.9L467.4 367.7M483.9 362.6L534.1 398.1M473.5 443.5L434.5 410.5M483.9 362.6L534.6 407.5M451.5 417.4L487.7 426.5M473.5 443.5L530.8 436.2M473.5 443.5L478.3 423.5M503.7 405.9L513.3 377.1M451.5 417.4L491.0 369.5M473.5 443.5L513.3 398.6M473.5 443.5L536.7 423.2M473.5 443.5L468.7 394.1M591.6 352.9L479.1 344.1M606.8 323.7L491.0 369.5M580.2 325.0L543.5 399.9M581.4 341.4L468.7 394.1M536.6 310.0L459.3 335.7M568.8 307.2L484.2 406.2M580.2 325.0L470.7 401.2M591.6 352.9L508.0 450.1M149.0 96.0L159.2 113.3M161.0 134.0L126.7 94.6M140.5 109.3L118.5 74.6M140.5 109.3L160.9 55.3M140.5 109.3L164.3 144.3M140.5 109.3L125.6 85.2M161.0 134.0L157.2 85.8M140.5 109.3L119.1 64.0M140.5 109.3L129.1 61.0M161.0 134.0L132.2 82.8M140.5 109.3L148.7 53.2M149.0 96.0L103.6 107.2M149.0 96.0L106.3 117.4M161.0 134.0L139.5 82.2M161.0 134.0L117.1 102.1M140.5 109.3L127.7 71.6M161.0 134.0L134.4 92.5M149.0 96.0L112.0 126.6M149.0 96.0L121.0 110.3M140.5 109.3L161.3 158.7M161.0 134.0L153.1 120.4M140.5 109.3L138.3 153.6M277.5 432.6L220.0 456.0M277.5 432.6L340.1 457.5M277.5 432.6L268.2 480.1M303.0 447.2L357.4 486.2M368.3 448.1L334.5 503.1M303.8 483.7L265.7 413.4M303.0 447.2L288.5 504.7M277.5 432.6L218.8 469.2M396.7 422.5L346.4 467.1M303.0 447.2L254.3 451.4M303.0 447.2L326.9 452.4M303.0 447.2L278.4 391.8M495.0 266.0L451.5 270.3M400.5 343.8L342.2 381.8M386.1 304.0L390.6 274.8M349.6 354.0L354.8 303.5M400.0 257.8L419.6 326.3M400.5 343.8L414.0 275.3M349.6 354.0L354.4 303.2M400.5 343.8L325.8 368.3M386.1 304.0L366.4 332.9M349.6 354.0L367.3 321.9" stroke="#aaaab0" stroke-width="1.8" fill="none" stroke-linecap="round"/>
<g fill="#7f55b5">
<circle cx="136.4" cy="54.7" r="3.6"/><circle cx="148.7" cy="53.2" r="3.6"/><circle cx="160.9" cy="55.3" r="3.6"/><circle cx="119.1" cy="64.0" r="3.6"/><circle cx="129.1" cy="61.0" r="3.6"/><circle cx="142.3" cy="61.0" r="3.6"/><circle cx="153.7" cy="62.4" r="3.6"/><circle cx="165.8" cy="64.0" r="3.6"/><circle cx="175.1" cy="67.1" r="3.6"/><circle cx="118.5" cy="74.6" r="3.6"/><circle cx="127.7" cy="71.6" r="3.6"/><circle cx="137.9" cy="69.5" r="3.6"/><circle cx="148.5" cy="70.5" r="3.6"/><circle cx="158.6" cy="72.2" r="3.6"/><circle cx="167.8" cy="76.3" r="3.6"/><circle cx="175.5" cy="82.2" r="3.6"/><circle cx="111.0" cy="80.7" r="3.6"/><circle cx="125.6" cy="85.2" r="3.6"/><circle cx="132.2" cy="82.8" r="3.6"/><circle cx="139.5" cy="82.2" r="3.6"/><circle cx="146.6" cy="82.2" r="3.6"/><circle cx="157.2" cy="85.8" r="3.6"/><circle cx="117.9" cy="91.9" r="3.6"/><circle cx="126.7" cy="94.6" r="3.6"/><circle cx="134.4" cy="92.5" r="3.6"/><circle cx="167.4" cy="99.7" r="3.6"/><circle cx="160.3" cy="105.2" r="3.6"/><circle cx="104.7" cy="96.0" r="3.6"/><circle cx="117.1" cy="102.1" r="3.6"/><circle cx="126.3" cy="101.7" r="3.6"/><circle cx="103.6" cy="107.2" r="3.6"/><circle cx="121.0" cy="110.3" r="3.6"/><circle cx="106.3" cy="117.4" r="3.6"/><circle cx="112.0" cy="126.6" r="3.6"/><circle cx="128.7" cy="117.0" r="3.6"/><circle cx="131.8" cy="124.5" r="3.6"/><circle cx="138.9" cy="128.0" r="3.6"/><circle cx="145.4" cy="127.6" r="3.6"/><circle cx="159.2" cy="113.3" r="3.6"/><circle cx="153.1" cy="120.4" r="3.6"/><circle cx="179.0" cy="103.7" r="3.6"/><circle cx="170.4" cy="110.3" r="3.6"/><circle cx="187.8" cy="117.0" r="3.6"/><circle cx="170.4" cy="121.5" r="3.6"/><circle cx="179.6" cy="120.4" r="3.6"/><circle cx="184.7" cy="127.2" r="3.6"/><circle cx="176.6" cy="130.2" r="3.6"/><circle cx="180.6" cy="138.4" r="3.6"/><circle cx="176.6" cy="145.9" r="3.6"/><circle cx="164.3" cy="144.3" r="3.6"/><circle cx="132.2" cy="136.1" r="3.6"/><circle cx="128.1" cy="147.5" r="3.6"/><circle cx="138.3" cy="153.6" r="3.6"/><circle cx="152.1" cy="153.0" r="3.6"/><circle cx="161.3" cy="158.7" r="3.6"/>
</g>
<g fill="#a0a0a0">
<circle cx="206.0" cy="74.0" r="3.6"/><circle cx="227.9" cy="70.0" r="3.6"/><circle cx="218.2" cy="80.9" r="3.6"/><circle cx="232.9" cy="82.1" r="3.6"/><circle cx="197.4" cy="93.0" r="3.6"/><circle cx="241.6" cy="110.0" r="3.6"/><circle cx="217.7" cy="122.7" r="3.6"/><circle cx="372.1" cy="261.6" r="3.6"/><circle cx="424.6" cy="259.1" r="3.6"/><circle cx="390.6" cy="274.8" r="3.6"/><circle cx="414.0" cy="275.3" r="3.6"/><circle cx="362.0" cy="275.3" r="3.6"/><circle cx="360.7" cy="291.3" r="3.6"/><circle cx="354.4" cy="303.2" r="3.6"/><circle cx="366.3" cy="301.4" r="3.6"/><circle cx="362.0" cy="311.6" r="3.6"/><circle cx="372.1" cy="309.6" r="3.6"/><circle cx="351.8" cy="315.9" r="3.6"/><circle cx="367.8" cy="321.2" r="3.6"/><circle cx="356.9" cy="326.0" r="3.6"/><circle cx="378.5" cy="329.9" r="3.6"/><circle cx="365.8" cy="333.7" r="3.6"/><circle cx="351.8" cy="335.7" r="3.6"/><circle cx="391.2" cy="321.2" r="3.6"/><circle cx="406.4" cy="321.2" r="3.6"/><circle cx="419.6" cy="326.3" r="3.6"/><circle cx="381.5" cy="281.9" r="3.6"/><circle cx="440.1" cy="269.7" r="3.6"/><circle cx="451.5" cy="270.3" r="3.6"/><circle cx="461.7" cy="275.6" r="3.6"/><circle cx="430.0" cy="281.2" r="3.6"/><circle cx="441.4" cy="281.7" r="3.6"/><circle cx="453.3" cy="282.4" r="3.6"/><circle cx="464.7" cy="287.5" r="3.6"/><circle cx="466.7" cy="306.0" r="3.6"/><circle cx="433.8" cy="321.2" r="3.6"/><circle cx="444.4" cy="321.7" r="3.6"/><circle cx="474.3" cy="253.8" r="3.6"/><circle cx="492.1" cy="248.2" r="3.6"/><circle cx="507.8" cy="245.7" r="3.6"/><circle cx="476.1" cy="266.4" r="3.6"/><circle cx="477.4" cy="275.6" r="3.6"/><circle cx="512.9" cy="269.7" r="3.6"/><circle cx="406.4" cy="321.3" r="3.6"/><circle cx="418.2" cy="326.7" r="3.6"/><circle cx="382.8" cy="345.5" r="3.6"/><circle cx="383.4" cy="358.0" r="3.6"/><circle cx="333.1" cy="337.0" r="3.6"/><circle cx="321.0" cy="341.8" r="3.6"/><circle cx="330.6" cy="346.4" r="3.6"/><circle cx="322.9" cy="355.7" r="3.6"/><circle cx="332.6" cy="360.5" r="3.6"/><circle cx="325.8" cy="368.3" r="3.6"/><circle cx="338.4" cy="371.2" r="3.6"/><circle cx="329.7" cy="380.4" r="3.6"/><circle cx="342.2" cy="381.8" r="3.6"/><circle cx="352.9" cy="376.0" r="3.6"/><circle cx="371.2" cy="369.6" r="3.6"/><circle cx="351.9" cy="335.8" r="3.6"/><circle cx="366.4" cy="332.9" r="3.6"/><circle cx="354.8" cy="303.5" r="3.6"/><circle cx="366.4" cy="301.6" r="3.6"/><circle cx="352.5" cy="315.7" r="3.6"/><circle cx="362.5" cy="312.2" r="3.6"/><circle cx="355.7" cy="325.7" r="3.6"/><circle cx="367.3" cy="321.9" r="3.6"/><circle cx="378.0" cy="330.2" r="3.6"/><circle cx="390.5" cy="321.3" r="3.6"/><circle cx="434.4" cy="321.9" r="3.6"/><circle cx="445.2" cy="321.9" r="3.6"/><circle cx="466.3" cy="306.4" r="3.6"/>
</g>
<g fill="#2ab88e">
<circle cx="253.7" cy="100.6" r="3.6"/><circle cx="263.1" cy="93.0" r="3.6"/><circle cx="267.7" cy="103.7" r="3.6"/><circle cx="276.5" cy="96.0" r="3.6"/><circle cx="282.1" cy="107.5" r="3.6"/><circle cx="199.2" cy="113.3" r="3.6"/><circle cx="150.7" cy="220.4" r="3.6"/><circle cx="142.0" cy="230.6" r="3.6"/><circle cx="152.2" cy="234.9" r="3.6"/><circle cx="149.3" cy="250.3" r="3.6"/><circle cx="142.0" cy="259.6" r="3.6"/><circle cx="153.6" cy="260.4" r="3.6"/><circle cx="149.3" cy="270.6" r="3.6"/><circle cx="182.7" cy="157.6" r="3.6"/><circle cx="192.4" cy="155.1" r="3.6"/><circle cx="176.0" cy="165.5" r="3.6"/><circle cx="190.9" cy="165.5" r="3.6"/><circle cx="176.8" cy="174.8" r="3.6"/><circle cx="159.2" cy="182.3" r="3.6"/><circle cx="169.3" cy="181.1" r="3.6"/><circle cx="158.2" cy="192.2" r="3.6"/><circle cx="168.9" cy="190.7" r="3.6"/><circle cx="160.4" cy="201.4" r="3.6"/><circle cx="172.0" cy="198.5" r="3.6"/><circle cx="168.3" cy="210.5" r="3.6"/><circle cx="177.8" cy="208.9" r="3.6"/><circle cx="191.9" cy="198.2" r="3.6"/><circle cx="202.8" cy="200.4" r="3.6"/><circle cx="207.2" cy="184.4" r="3.6"/><circle cx="215.4" cy="183.3" r="3.6"/><circle cx="209.5" cy="171.4" r="3.6"/><circle cx="209.5" cy="162.9" r="3.6"/><circle cx="199.1" cy="208.9" r="3.6"/><circle cx="220.6" cy="145.7" r="3.6"/><circle cx="236.6" cy="145.3" r="3.6"/><circle cx="253.5" cy="142.9" r="3.6"/><circle cx="264.8" cy="142.9" r="3.6"/><circle cx="275.5" cy="143.8" r="3.6"/><circle cx="293.6" cy="149.1" r="3.6"/><circle cx="229.1" cy="152.3" r="3.6"/><circle cx="245.1" cy="150.4" r="3.6"/><circle cx="253.9" cy="151.3" r="3.6"/><circle cx="264.2" cy="151.3" r="3.6"/><circle cx="273.6" cy="153.2" r="3.6"/><circle cx="286.4" cy="157.0" r="3.6"/><circle cx="222.5" cy="158.8" r="3.6"/><circle cx="239.1" cy="158.5" r="3.6"/><circle cx="250.7" cy="158.8" r="3.6"/><circle cx="260.1" cy="160.7" r="3.6"/><circle cx="265.8" cy="162.6" r="3.6"/><circle cx="275.2" cy="162.6" r="3.6"/><circle cx="280.8" cy="159.8" r="3.6"/><circle cx="292.1" cy="163.5" r="3.6"/><circle cx="218.8" cy="171.1" r="3.6"/><circle cx="235.7" cy="168.6" r="3.6"/><circle cx="244.1" cy="165.4" r="3.6"/><circle cx="254.5" cy="169.2" r="3.6"/><circle cx="262.0" cy="174.2" r="3.6"/><circle cx="270.5" cy="170.1" r="3.6"/><circle cx="276.1" cy="174.2" r="3.6"/><circle cx="283.0" cy="169.5" r="3.6"/><circle cx="291.1" cy="173.9" r="3.6"/><circle cx="301.1" cy="171.1" r="3.6"/><circle cx="231.0" cy="179.5" r="3.6"/><circle cx="247.0" cy="174.2" r="3.6"/><circle cx="253.5" cy="179.5" r="3.6"/><circle cx="275.2" cy="183.3" r="3.6"/><circle cx="288.3" cy="181.4" r="3.6"/><circle cx="302.4" cy="181.4" r="3.6"/><circle cx="226.3" cy="186.1" r="3.6"/><circle cx="219.7" cy="190.8" r="3.6"/><circle cx="282.7" cy="187.0" r="3.6"/><circle cx="294.9" cy="188.9" r="3.6"/><circle cx="222.5" cy="200.2" r="3.6"/><circle cx="231.0" cy="203.9" r="3.6"/><circle cx="247.0" cy="200.2" r="3.6"/><circle cx="275.2" cy="197.4" r="3.6"/><circle cx="292.4" cy="199.8" r="3.6"/><circle cx="302.4" cy="198.3" r="3.6"/><circle cx="241.3" cy="208.3" r="3.6"/><circle cx="246.0" cy="215.2" r="3.6"/><circle cx="261.1" cy="216.2" r="3.6"/><circle cx="278.9" cy="209.6" r="3.6"/><circle cx="293.9" cy="207.7" r="3.6"/><circle cx="287.4" cy="216.5" r="3.6"/><circle cx="219.7" cy="222.7" r="3.6"/><circle cx="230.0" cy="219.0" r="3.6"/><circle cx="243.2" cy="232.1" r="3.6"/><circle cx="253.5" cy="234.0" r="3.6"/><circle cx="273.3" cy="234.0" r="3.6"/><circle cx="296.8" cy="225.9" r="3.6"/><circle cx="210.0" cy="227.4" r="3.6"/><circle cx="200.4" cy="223.8" r="3.6"/><circle cx="195.2" cy="215.2" r="3.6"/><circle cx="214.3" cy="235.1" r="3.6"/><circle cx="204.2" cy="235.5" r="3.6"/><circle cx="194.9" cy="229.9" r="3.6"/><circle cx="188.3" cy="220.7" r="3.6"/><circle cx="185.6" cy="210.4" r="3.6"/><circle cx="192.8" cy="232.6" r="3.6"/><circle cx="190.7" cy="244.6" r="3.6"/><circle cx="182.6" cy="250.0" r="3.6"/>
</g>
<g fill="#2db9f0">
<circle cx="326.8" cy="189.7" r="3.6"/><circle cx="337.5" cy="193.3" r="3.6"/><circle cx="341.4" cy="204.3" r="3.6"/><circle cx="357.6" cy="201.2" r="3.6"/><circle cx="309.0" cy="228.0" r="3.6"/><circle cx="318.0" cy="236.0" r="3.6"/><circle cx="305.0" cy="206.0" r="3.6"/><circle cx="360.3" cy="213.4" r="3.6"/><circle cx="371.7" cy="215.8" r="3.6"/><circle cx="349.3" cy="221.1" r="3.6"/><circle cx="360.8" cy="224.7" r="3.6"/><circle cx="372.1" cy="226.3" r="3.6"/><circle cx="383.0" cy="225.5" r="3.6"/><circle cx="373.3" cy="236.8" r="3.6"/><circle cx="385.4" cy="237.6" r="3.6"/><circle cx="378.7" cy="248.6" r="3.6"/><circle cx="330.9" cy="229.5" r="3.6"/><circle cx="340.0" cy="262.0" r="3.6"/><circle cx="351.0" cy="270.0" r="3.6"/><circle cx="343.5" cy="275.0" r="3.6"/><circle cx="328.0" cy="258.0" r="3.6"/><circle cx="254.8" cy="244.8" r="3.6"/><circle cx="231.7" cy="254.3" r="3.6"/><circle cx="239.4" cy="252.1" r="3.6"/><circle cx="249.3" cy="254.3" r="3.6"/><circle cx="262.4" cy="253.6" r="3.6"/><circle cx="237.2" cy="260.8" r="3.6"/><circle cx="258.0" cy="261.9" r="3.6"/><circle cx="265.7" cy="261.9" r="3.6"/><circle cx="274.5" cy="269.6" r="3.6"/><circle cx="224.1" cy="270.7" r="3.6"/><circle cx="196.6" cy="280.6" r="3.6"/><circle cx="203.2" cy="280.6" r="3.6"/><circle cx="219.7" cy="275.1" r="3.6"/><circle cx="243.8" cy="275.1" r="3.6"/><circle cx="266.8" cy="282.8" r="3.6"/><circle cx="274.5" cy="279.5" r="3.6"/><circle cx="193.4" cy="292.6" r="3.6"/><circle cx="181.9" cy="298.1" r="3.6"/><circle cx="198.8" cy="299.2" r="3.6"/><circle cx="206.5" cy="293.7" r="3.6"/><circle cx="253.7" cy="298.1" r="3.6"/><circle cx="264.6" cy="292.6" r="3.6"/><circle cx="274.5" cy="291.5" r="3.6"/><circle cx="210.9" cy="301.8" r="3.6"/><circle cx="218.6" cy="301.4" r="3.6"/><circle cx="225.1" cy="299.2" r="3.6"/><circle cx="229.5" cy="305.8" r="3.6"/><circle cx="241.6" cy="303.6" r="3.6"/><circle cx="243.8" cy="310.2" r="3.6"/><circle cx="196.6" cy="308.4" r="3.6"/><circle cx="204.8" cy="309.1" r="3.6"/><circle cx="214.2" cy="310.2" r="3.6"/><circle cx="233.9" cy="314.6" r="3.6"/><circle cx="253.7" cy="315.7" r="3.6"/><circle cx="263.5" cy="309.1" r="3.6"/><circle cx="207.6" cy="317.9" r="3.6"/><circle cx="219.7" cy="315.7" r="3.6"/><circle cx="213.1" cy="324.4" r="3.6"/><circle cx="224.1" cy="326.6" r="3.6"/><circle cx="240.5" cy="324.4" r="3.6"/><circle cx="247.1" cy="318.9" r="3.6"/><circle cx="271.2" cy="329.9" r="3.6"/><circle cx="230.6" cy="342.0" r="3.6"/><circle cx="241.6" cy="340.9" r="3.6"/><circle cx="223.0" cy="349.6" r="3.6"/><circle cx="232.8" cy="352.5" r="3.6"/><circle cx="243.8" cy="350.3" r="3.6"/><circle cx="252.6" cy="353.4" r="3.6"/><circle cx="226.2" cy="360.2" r="3.6"/><circle cx="240.5" cy="359.5" r="3.6"/><circle cx="249.3" cy="362.8" r="3.6"/><circle cx="232.8" cy="366.8" r="3.6"/><circle cx="259.1" cy="365.4" r="3.6"/><circle cx="243.8" cy="371.6" r="3.6"/><circle cx="256.3" cy="375.5" r="3.6"/><circle cx="267.9" cy="373.8" r="3.6"/><circle cx="284.4" cy="247.7" r="3.6"/><circle cx="296.5" cy="246.6" r="3.6"/><circle cx="308.6" cy="249.9" r="3.6"/><circle cx="316.2" cy="243.3" r="3.6"/><circle cx="327.2" cy="243.3" r="3.6"/><circle cx="282.3" cy="255.4" r="3.6"/><circle cx="300.9" cy="259.7" r="3.6"/><circle cx="319.5" cy="253.2" r="3.6"/><circle cx="330.5" cy="255.4" r="3.6"/><circle cx="339.3" cy="263.0" r="3.6"/><circle cx="274.6" cy="268.5" r="3.6"/><circle cx="309.7" cy="270.7" r="3.6"/><circle cx="319.5" cy="266.3" r="3.6"/><circle cx="328.3" cy="275.1" r="3.6"/><circle cx="342.6" cy="272.9" r="3.6"/><circle cx="350.2" cy="270.7" r="3.6"/><circle cx="275.7" cy="280.6" r="3.6"/><circle cx="284.4" cy="281.7" r="3.6"/><circle cx="304.2" cy="280.6" r="3.6"/><circle cx="321.7" cy="275.1" r="3.6"/><circle cx="339.3" cy="283.9" r="3.6"/><circle cx="346.9" cy="288.7" r="3.6"/><circle cx="277.9" cy="290.9" r="3.6"/><circle cx="287.7" cy="293.7" r="3.6"/><circle cx="300.9" cy="294.8" r="3.6"/><circle cx="332.7" cy="292.6" r="3.6"/><circle cx="344.8" cy="297.5" r="3.6"/><circle cx="281.2" cy="301.0" r="3.6"/><circle cx="291.0" cy="302.5" r="3.6"/><circle cx="300.9" cy="303.6" r="3.6"/><circle cx="310.8" cy="303.6" r="3.6"/><circle cx="327.2" cy="306.9" r="3.6"/><circle cx="337.1" cy="304.7" r="3.6"/><circle cx="277.9" cy="310.6" r="3.6"/><circle cx="295.4" cy="313.5" r="3.6"/><circle cx="331.6" cy="317.9" r="3.6"/><circle cx="307.5" cy="324.4" r="3.6"/><circle cx="322.8" cy="323.3" r="3.6"/><circle cx="283.4" cy="336.5" r="3.6"/><circle cx="297.6" cy="335.8" r="3.6"/><circle cx="291.7" cy="345.3" r="3.6"/><circle cx="280.1" cy="374.9" r="3.6"/><circle cx="166.1" cy="324.2" r="3.6"/><circle cx="160.3" cy="334.1" r="3.6"/><circle cx="165.2" cy="342.8" r="3.6"/><circle cx="172.5" cy="351.4" r="3.6"/>
</g>
<g fill="#c83caa">
<circle cx="353.8" cy="109.0" r="3.6"/><circle cx="331.4" cy="118.1" r="3.6"/><circle cx="342.5" cy="94.8" r="3.6"/><circle cx="350.5" cy="121.0" r="3.6"/><circle cx="325.7" cy="106.2" r="3.6"/><circle cx="355.3" cy="100.1" r="3.6"/><circle cx="336.8" cy="125.7" r="3.6"/><circle cx="333.0" cy="93.1" r="3.6"/><circle cx="358.8" cy="115.4" r="3.6"/><circle cx="323.5" cy="116.3" r="3.6"/><circle cx="349.7" cy="91.1" r="3.6"/><circle cx="347.4" cy="128.5" r="3.6"/><circle cx="323.2" cy="98.5" r="3.6"/><circle cx="362.3" cy="104.4" r="3.6"/><circle cx="328.6" cy="127.0" r="3.6"/><circle cx="338.4" cy="86.6" r="3.6"/><circle cx="359.0" cy="123.9" r="3.6"/><circle cx="317.7" cy="110.0" r="3.6"/><circle cx="358.4" cy="92.0" r="3.6"/><circle cx="340.2" cy="133.6" r="3.6"/><circle cx="325.2" cy="89.8" r="3.6"/><circle cx="366.6" cy="112.4" r="3.6"/><circle cx="320.0" cy="123.8" r="3.6"/><circle cx="347.1" cy="83.2" r="3.6"/><circle cx="354.7" cy="132.3" r="3.6"/><circle cx="315.3" cy="100.7" r="3.6"/><circle cx="366.5" cy="97.4" r="3.6"/><circle cx="330.4" cy="135.0" r="3.6"/><circle cx="331.6" cy="82.1" r="3.6"/><circle cx="367.0" cy="122.5" r="3.6"/><circle cx="312.9" cy="116.5" r="3.6"/><circle cx="357.4" cy="83.9" r="3.6"/><circle cx="346.4" cy="138.8" r="3.6"/><circle cx="317.1" cy="90.3" r="3.6"/><circle cx="372.2" cy="106.4" r="3.6"/><circle cx="320.0" cy="132.0" r="3.6"/><circle cx="341.5" cy="77.3" r="3.6"/><circle cx="362.9" cy="132.8" r="3.6"/><circle cx="309.0" cy="106.0" r="3.6"/><circle cx="367.4" cy="89.2" r="3.6"/><circle cx="335.4" cy="141.6" r="3.6"/><circle cx="323.4" cy="80.6" r="3.6"/><circle cx="374.0" cy="118.0" r="3.6"/><circle cx="310.8" cy="124.6" r="3.6"/><circle cx="353.3" cy="76.6" r="3.6"/><circle cx="354.5" cy="141.3" r="3.6"/><circle cx="309.5" cy="93.9" r="3.6"/><circle cx="375.3" cy="98.5" r="3.6"/><circle cx="323.1" cy="140.0" r="3.6"/><circle cx="333.7" cy="73.6" r="3.6"/><circle cx="371.1" cy="130.2" r="3.6"/><circle cx="304.7" cy="113.6" r="3.6"/><circle cx="365.4" cy="80.7" r="3.6"/><circle cx="342.7" cy="146.5" r="3.6"/><circle cx="314.8" cy="82.0" r="3.6"/><circle cx="379.4" cy="111.0" r="3.6"/><circle cx="311.7" cy="133.5" r="3.6"/><circle cx="346.7" cy="70.6" r="3.6"/><circle cx="363.4" cy="141.2" r="3.6"/><circle cx="302.9" cy="100.2" r="3.6"/><circle cx="375.8" cy="89.5" r="3.6"/><circle cx="329.0" cy="147.0" r="3.6"/><circle cx="324.6" cy="72.4" r="3.6"/><circle cx="378.6" cy="124.8" r="3.6"/><circle cx="302.8" cy="122.6" r="3.6"/><circle cx="360.6" cy="72.7" r="3.6"/><circle cx="351.6" cy="149.1" r="3.6"/><circle cx="306.3" cy="86.3" r="3.6"/><circle cx="382.7" cy="102.1" r="3.6"/><circle cx="315.3" cy="142.3" r="3.6"/><circle cx="338.0" cy="66.6" r="3.6"/><circle cx="372.6" cy="138.2" r="3.6"/><circle cx="298.2" cy="108.6" r="3.6"/><circle cx="373.6" cy="80.0" r="3.6"/><circle cx="337.0" cy="152.4" r="3.6"/><circle cx="314.9" cy="73.9" r="3.6"/><circle cx="384.7" cy="117.1" r="3.6"/><circle cx="303.6" cy="132.5" r="3.6"/><circle cx="353.3" cy="66.0" r="3.6"/><circle cx="361.6" cy="149.1" r="3.6"/><circle cx="299.0" cy="93.1" r="3.6"/><circle cx="383.5" cy="92.1" r="3.6"/><circle cx="321.5" cy="150.2" r="3.6"/><circle cx="328.0" cy="65.0" r="3.6"/>
</g>
<g fill="#1e73a0">
<circle cx="189.6" cy="373.9" r="3.6"/><circle cx="200.6" cy="372.4" r="3.6"/><circle cx="174.3" cy="381.8" r="3.6"/><circle cx="185.5" cy="382.2" r="3.6"/><circle cx="200.3" cy="382.8" r="3.6"/><circle cx="167.3" cy="391.1" r="3.6"/><circle cx="177.0" cy="391.1" r="3.6"/><circle cx="190.7" cy="390.2" r="3.6"/><circle cx="227.5" cy="394.7" r="3.6"/><circle cx="248.4" cy="388.9" r="3.6"/><circle cx="183.2" cy="397.7" r="3.6"/><circle cx="166.6" cy="402.3" r="3.6"/><circle cx="176.9" cy="404.5" r="3.6"/><circle cx="193.7" cy="402.9" r="3.6"/><circle cx="231.9" cy="403.3" r="3.6"/><circle cx="243.4" cy="402.3" r="3.6"/><circle cx="220.1" cy="406.6" r="3.6"/><circle cx="170.6" cy="411.8" r="3.6"/><circle cx="185.8" cy="408.8" r="3.6"/><circle cx="193.9" cy="413.4" r="3.6"/><circle cx="210.7" cy="415.2" r="3.6"/><circle cx="228.1" cy="415.7" r="3.6"/><circle cx="239.4" cy="417.7" r="3.6"/><circle cx="219.2" cy="418.9" r="3.6"/><circle cx="181.3" cy="418.5" r="3.6"/><circle cx="172.4" cy="421.4" r="3.6"/><circle cx="188.4" cy="423.4" r="3.6"/><circle cx="196.6" cy="425.9" r="3.6"/><circle cx="208.1" cy="428.1" r="3.6"/><circle cx="222.6" cy="427.5" r="3.6"/><circle cx="178.0" cy="429.8" r="3.6"/><circle cx="185.9" cy="433.8" r="3.6"/><circle cx="196.3" cy="432.7" r="3.6"/><circle cx="215.2" cy="435.3" r="3.6"/><circle cx="193.7" cy="440.8" r="3.6"/><circle cx="205.5" cy="440.0" r="3.6"/><circle cx="213.4" cy="373.6" r="3.6"/><circle cx="226.4" cy="383.7" r="3.6"/>
</g>
<g fill="#964814">
<circle cx="626.3" cy="463.4" r="3.6"/><circle cx="638.7" cy="466.3" r="3.6"/><circle cx="647.6" cy="475.2" r="3.6"/><circle cx="650.5" cy="487.6" r="3.6"/><circle cx="645.4" cy="500.8" r="3.6"/><circle cx="635.4" cy="508.0" r="3.6"/><circle cx="622.9" cy="508.9" r="3.6"/><circle cx="612.0" cy="503.4" r="3.6"/><circle cx="604.9" cy="490.5" r="3.6"/><circle cx="606.0" cy="478.2" r="3.6"/><circle cx="614.0" cy="467.8" r="3.6"/>
</g>
<g fill="#7652b0">
<circle cx="406.9" cy="126.6" r="3.6"/><circle cx="418.3" cy="130.4" r="3.6"/><circle cx="427.2" cy="124.6" r="3.6"/><circle cx="431.8" cy="137.5" r="3.6"/><circle cx="402.4" cy="138.5" r="3.6"/><circle cx="392.2" cy="142.6" r="3.6"/><circle cx="394.2" cy="152.5" r="3.6"/><circle cx="398.0" cy="164.7" r="3.6"/><circle cx="466.0" cy="138.8" r="3.6"/><circle cx="468.5" cy="154.5" r="3.6"/><circle cx="476.7" cy="130.9" r="3.6"/><circle cx="490.6" cy="127.1" r="3.6"/><circle cx="501.5" cy="130.9" r="3.6"/><circle cx="503.3" cy="140.6" r="3.6"/><circle cx="510.9" cy="149.5" r="3.6"/><circle cx="500.8" cy="157.8" r="3.6"/><circle cx="476.7" cy="165.9" r="3.6"/><circle cx="466.0" cy="138.8" r="3.6"/><circle cx="436.1" cy="168.5" r="3.6"/><circle cx="421.6" cy="177.4" r="3.6"/><circle cx="434.3" cy="181.7" r="3.6"/><circle cx="476.7" cy="165.4" r="3.6"/><circle cx="488.8" cy="167.7" r="3.6"/><circle cx="481.7" cy="179.9" r="3.6"/><circle cx="471.6" cy="187.5" r="3.6"/><circle cx="464.0" cy="191.8" r="3.6"/><circle cx="468.5" cy="154.5" r="3.6"/><circle cx="390.4" cy="174.8" r="3.6"/><circle cx="379.0" cy="181.9" r="3.6"/><circle cx="378.3" cy="190.5" r="3.6"/><circle cx="375.2" cy="202.0" r="3.6"/><circle cx="387.4" cy="201.4" r="3.6"/><circle cx="405.7" cy="207.8" r="3.6"/><circle cx="418.3" cy="204.0" r="3.6"/><circle cx="423.4" cy="194.3" r="3.6"/><circle cx="406.9" cy="171.8" r="3.6"/><circle cx="421.6" cy="177.4" r="3.6"/><circle cx="541.3" cy="156.3" r="3.6"/><circle cx="550.2" cy="163.4" r="3.6"/><circle cx="541.8" cy="166.4" r="3.6"/><circle cx="550.7" cy="173.5" r="3.6"/><circle cx="536.8" cy="177.4" r="3.6"/><circle cx="546.4" cy="187.5" r="3.6"/><circle cx="527.4" cy="183.2" r="3.6"/><circle cx="537.5" cy="189.3" r="3.6"/><circle cx="528.7" cy="194.3" r="3.6"/><circle cx="541.8" cy="198.4" r="3.6"/><circle cx="520.3" cy="199.4" r="3.6"/><circle cx="534.2" cy="204.5" r="3.6"/><circle cx="522.3" cy="209.1" r="3.6"/><circle cx="510.9" cy="202.7" r="3.6"/><circle cx="503.3" cy="204.5" r="3.6"/><circle cx="490.6" cy="192.6" r="3.6"/><circle cx="419.6" cy="228.1" r="3.6"/><circle cx="440.6" cy="239.5" r="3.6"/><circle cx="460.9" cy="210.8" r="3.6"/><circle cx="434.3" cy="181.7" r="3.6"/><circle cx="462.7" cy="224.8" r="3.6"/><circle cx="461.4" cy="238.2" r="3.6"/><circle cx="471.6" cy="224.3" r="3.6"/><circle cx="481.7" cy="242.0" r="3.6"/><circle cx="485.5" cy="230.6" r="3.6"/><circle cx="498.2" cy="233.1" r="3.6"/><circle cx="504.1" cy="219.2" r="3.6"/><circle cx="490.6" cy="192.6" r="3.6"/><circle cx="471.6" cy="187.5" r="3.6"/><circle cx="542.5" cy="157.1" r="3.6"/><circle cx="550.1" cy="163.4" r="3.6"/><circle cx="542.0" cy="166.4" r="3.6"/><circle cx="551.4" cy="173.5" r="3.6"/><circle cx="546.3" cy="187.5" r="3.6"/><circle cx="543.0" cy="198.9" r="3.6"/><circle cx="596.3" cy="162.1" r="3.6"/><circle cx="610.3" cy="160.1" r="3.6"/><circle cx="605.9" cy="169.7" r="3.6"/><circle cx="596.3" cy="175.3" r="3.6"/><circle cx="605.9" cy="183.2" r="3.6"/><circle cx="592.5" cy="188.3" r="3.6"/><circle cx="600.9" cy="195.6" r="3.6"/><circle cx="588.2" cy="200.2" r="3.6"/>
</g>
<g fill="#a9ae34">
<circle cx="578.0" cy="202.0" r="3.6"/><circle cx="560.8" cy="247.6" r="3.6"/><circle cx="560.4" cy="247.8" r="3.6"/><circle cx="550.6" cy="262.7" r="3.6"/><circle cx="560.4" cy="259.4" r="3.6"/><circle cx="568.5" cy="258.3" r="3.6"/><circle cx="580.1" cy="261.6" r="3.6"/><circle cx="585.6" cy="260.5" r="3.6"/><circle cx="524.7" cy="268.8" r="3.6"/><circle cx="534.1" cy="269.3" r="3.6"/><circle cx="548.4" cy="272.6" r="3.6"/><circle cx="557.1" cy="268.2" r="3.6"/><circle cx="565.9" cy="271.5" r="3.6"/><circle cx="572.4" cy="264.9" r="3.6"/><circle cx="577.9" cy="273.7" r="3.6"/><circle cx="524.7" cy="279.1" r="3.6"/><circle cx="534.1" cy="279.1" r="3.6"/><circle cx="550.1" cy="280.2" r="3.6"/><circle cx="559.3" cy="276.9" r="3.6"/><circle cx="570.3" cy="282.4" r="3.6"/><circle cx="579.0" cy="281.3" r="3.6"/><circle cx="510.0" cy="283.9" r="3.6"/><circle cx="519.9" cy="286.1" r="3.6"/><circle cx="529.7" cy="289.4" r="3.6"/><circle cx="542.9" cy="284.6" r="3.6"/><circle cx="552.7" cy="292.3" r="3.6"/><circle cx="562.6" cy="285.7" r="3.6"/><circle cx="584.5" cy="290.1" r="3.6"/><circle cx="506.3" cy="295.6" r="3.6"/><circle cx="514.4" cy="291.6" r="3.6"/><circle cx="523.2" cy="297.3" r="3.6"/><circle cx="541.8" cy="294.9" r="3.6"/><circle cx="557.1" cy="301.0" r="3.6"/><circle cx="511.1" cy="304.3" r="3.6"/><circle cx="521.0" cy="308.0" r="3.6"/><circle cx="549.5" cy="308.7" r="3.6"/><circle cx="516.6" cy="319.2" r="3.6"/><circle cx="547.3" cy="318.5" r="3.6"/><circle cx="556.0" cy="315.3" r="3.6"/><circle cx="552.7" cy="322.9" r="3.6"/><circle cx="563.7" cy="327.3" r="3.6"/><circle cx="530.8" cy="336.1" r="3.6"/><circle cx="558.2" cy="332.8" r="3.6"/><circle cx="572.4" cy="335.0" r="3.6"/><circle cx="542.9" cy="343.3" r="3.6"/><circle cx="554.9" cy="345.9" r="3.6"/><circle cx="573.5" cy="343.7" r="3.6"/><circle cx="556.0" cy="359.0" r="3.6"/><circle cx="571.4" cy="355.1" r="3.6"/><circle cx="582.3" cy="356.9" r="3.6"/><circle cx="567.0" cy="368.9" r="3.6"/><circle cx="584.5" cy="374.4" r="3.6"/><circle cx="602.1" cy="274.6" r="3.6"/><circle cx="620.7" cy="283.3" r="3.6"/><circle cx="630.6" cy="282.2" r="3.6"/><circle cx="640.0" cy="284.4" r="3.6"/><circle cx="604.3" cy="291.0" r="3.6"/><circle cx="611.3" cy="294.3" r="3.6"/><circle cx="624.0" cy="289.9" r="3.6"/><circle cx="631.6" cy="295.4" r="3.6"/><circle cx="639.3" cy="293.2" r="3.6"/><circle cx="647.6" cy="295.4" r="3.6"/><circle cx="654.2" cy="300.4" r="3.6"/><circle cx="609.7" cy="300.8" r="3.6"/><circle cx="620.7" cy="303.0" r="3.6"/><circle cx="630.6" cy="304.1" r="3.6"/><circle cx="640.0" cy="301.9" r="3.6"/><circle cx="648.1" cy="307.4" r="3.6"/><circle cx="656.8" cy="308.5" r="3.6"/><circle cx="616.3" cy="310.7" r="3.6"/><circle cx="625.1" cy="314.0" r="3.6"/><circle cx="632.7" cy="315.1" r="3.6"/><circle cx="640.4" cy="311.8" r="3.6"/><circle cx="651.4" cy="315.1" r="3.6"/><circle cx="660.8" cy="315.1" r="3.6"/><circle cx="630.6" cy="321.6" r="3.6"/><circle cx="638.2" cy="322.7" r="3.6"/><circle cx="643.7" cy="326.0" r="3.6"/><circle cx="654.6" cy="322.7" r="3.6"/><circle cx="661.2" cy="327.1" r="3.6"/><circle cx="631.6" cy="331.5" r="3.6"/><circle cx="640.4" cy="333.7" r="3.6"/><circle cx="649.2" cy="331.5" r="3.6"/><circle cx="657.9" cy="337.0" r="3.6"/><circle cx="637.1" cy="338.1" r="3.6"/><circle cx="644.8" cy="339.2" r="3.6"/><circle cx="653.5" cy="343.5" r="3.6"/><circle cx="647.0" cy="349.0" r="3.6"/><circle cx="625.1" cy="343.5" r="3.6"/><circle cx="631.6" cy="350.1" r="3.6"/><circle cx="638.2" cy="356.7" r="3.6"/><circle cx="644.8" cy="362.2" r="3.6"/><circle cx="618.5" cy="351.2" r="3.6"/><circle cx="625.1" cy="355.6" r="3.6"/><circle cx="631.6" cy="367.6" r="3.6"/><circle cx="642.6" cy="373.1" r="3.6"/><circle cx="641.5" cy="381.9" r="3.6"/><circle cx="621.8" cy="362.2" r="3.6"/><circle cx="622.9" cy="370.9" r="3.6"/><circle cx="629.5" cy="377.5" r="3.6"/><circle cx="634.9" cy="387.3" r="3.6"/><circle cx="621.8" cy="378.6" r="3.6"/><circle cx="583.5" cy="375.3" r="3.6"/><circle cx="588.9" cy="375.3" r="3.6"/><circle cx="601.0" cy="375.3" r="3.6"/><circle cx="610.8" cy="377.5" r="3.6"/><circle cx="602.1" cy="383.0" r="3.6"/><circle cx="613.0" cy="386.2" r="3.6"/><circle cx="622.9" cy="386.2" r="3.6"/><circle cx="597.7" cy="391.7" r="3.6"/><circle cx="608.7" cy="392.8" r="3.6"/><circle cx="618.5" cy="397.2" r="3.6"/><circle cx="628.4" cy="395.0" r="3.6"/><circle cx="602.1" cy="400.5" r="3.6"/><circle cx="580.1" cy="306.5" r="3.6"/><circle cx="561.3" cy="316.5" r="3.6"/><circle cx="557.2" cy="307.9" r="3.6"/><circle cx="569.8" cy="295.9" r="3.6"/><circle cx="577.2" cy="297.9" r="3.6"/><circle cx="588.8" cy="312.9" r="3.6"/><circle cx="584.3" cy="320.9" r="3.6"/><circle cx="576.8" cy="326.0" r="3.6"/><circle cx="550.9" cy="316.1" r="3.6"/><circle cx="549.0" cy="307.6" r="3.6"/><circle cx="550.3" cy="296.6" r="3.6"/><circle cx="566.6" cy="286.4" r="3.6"/><circle cx="576.1" cy="288.5" r="3.6"/><circle cx="583.8" cy="292.7" r="3.6"/><circle cx="554.0" cy="280.6" r="3.6"/><circle cx="562.7" cy="278.6" r="3.6"/><circle cx="573.9" cy="277.9" r="3.6"/><circle cx="583.6" cy="282.2" r="3.6"/><circle cx="591.9" cy="288.0" r="3.6"/><circle cx="606.9" cy="310.7" r="3.6"/><circle cx="598.4" cy="315.3" r="3.6"/><circle cx="590.9" cy="311.5" r="3.6"/><circle cx="587.3" cy="304.1" r="3.6"/><circle cx="598.6" cy="290.9" r="3.6"/><circle cx="607.7" cy="295.1" r="3.6"/><circle cx="620.6" cy="308.3" r="3.6"/><circle cx="614.9" cy="317.4" r="3.6"/><circle cx="606.5" cy="323.1" r="3.6"/><circle cx="597.7" cy="324.7" r="3.6"/><circle cx="588.3" cy="320.1" r="3.6"/><circle cx="581.7" cy="314.0" r="3.6"/><circle cx="586.2" cy="285.5" r="3.6"/><circle cx="607.3" cy="284.7" r="3.6"/><circle cx="620.0" cy="297.5" r="3.6"/><circle cx="588.0" cy="275.4" r="3.6"/><circle cx="597.6" cy="273.4" r="3.6"/><circle cx="609.8" cy="274.3" r="3.6"/><circle cx="592.2" cy="324.6" r="3.6"/><circle cx="570.6" cy="333.6" r="3.6"/><circle cx="567.0" cy="324.6" r="3.6"/><circle cx="571.7" cy="315.5" r="3.6"/><circle cx="580.9" cy="314.1" r="3.6"/><circle cx="587.1" cy="343.7" r="3.6"/><circle cx="578.7" cy="346.6" r="3.6"/><circle cx="559.4" cy="325.5" r="3.6"/><circle cx="577.5" cy="303.1" r="3.6"/><circle cx="588.0" cy="306.1" r="3.6"/><circle cx="599.5" cy="320.8" r="3.6"/><circle cx="593.0" cy="341.5" r="3.6"/><circle cx="589.3" cy="349.0" r="3.6"/><circle cx="580.8" cy="352.5" r="3.6"/><circle cx="580.9" cy="330.0" r="3.6"/><circle cx="601.0" cy="346.1" r="3.6"/><circle cx="569.6" cy="357.9" r="3.6"/><circle cx="563.8" cy="350.2" r="3.6"/><circle cx="560.2" cy="341.4" r="3.6"/><circle cx="562.5" cy="331.7" r="3.6"/><circle cx="570.6" cy="323.7" r="3.6"/><circle cx="579.4" cy="320.9" r="3.6"/><circle cx="588.5" cy="320.7" r="3.6"/><circle cx="618.2" cy="322.9" r="3.6"/><circle cx="607.7" cy="336.1" r="3.6"/><circle cx="606.0" cy="311.6" r="3.6"/><circle cx="628.3" cy="328.8" r="3.6"/><circle cx="613.8" cy="343.0" r="3.6"/><circle cx="594.8" cy="341.0" r="3.6"/><circle cx="584.6" cy="323.1" r="3.6"/><circle cx="593.8" cy="305.3" r="3.6"/><circle cx="603.6" cy="303.1" r="3.6"/><circle cx="614.8" cy="304.4" r="3.6"/><circle cx="623.4" cy="309.5" r="3.6"/><circle cx="628.4" cy="317.8" r="3.6"/><circle cx="603.9" cy="351.8" r="3.6"/><circle cx="601.0" cy="361.7" r="3.6"/><circle cx="592.3" cy="364.0" r="3.6"/><circle cx="583.1" cy="362.2" r="3.6"/><circle cx="580.4" cy="353.1" r="3.6"/><circle cx="583.6" cy="344.9" r="3.6"/><circle cx="606.4" cy="367.6" r="3.6"/><circle cx="599.4" cy="372.8" r="3.6"/><circle cx="589.0" cy="372.6" r="3.6"/><circle cx="580.3" cy="370.2" r="3.6"/><circle cx="573.4" cy="361.6" r="3.6"/><circle cx="570.0" cy="351.9" r="3.6"/><circle cx="579.0" cy="336.2" r="3.6"/><circle cx="589.1" cy="331.8" r="3.6"/><circle cx="599.5" cy="333.9" r="3.6"/><circle cx="607.7" cy="338.0" r="3.6"/><circle cx="611.5" cy="375.4" r="3.6"/><circle cx="600.7" cy="380.0" r="3.6"/><circle cx="592.0" cy="383.4" r="3.6"/><circle cx="580.8" cy="381.1" r="3.6"/><circle cx="572.2" cy="375.0" r="3.6"/>
</g>
<g fill="#a83e44">
<circle cx="642.7" cy="169.7" r="3.6"/><circle cx="656.2" cy="164.7" r="3.6"/><circle cx="669.3" cy="165.4" r="3.6"/><circle cx="678.7" cy="173.5" r="3.6"/><circle cx="682.0" cy="185.0" r="3.6"/><circle cx="642.0" cy="203.2" r="3.6"/><circle cx="685.1" cy="198.4" r="3.6"/><circle cx="642.0" cy="203.2" r="3.6"/><circle cx="646.0" cy="221.7" r="3.6"/><circle cx="630.0" cy="206.5" r="3.6"/><circle cx="642.0" cy="203.2" r="3.6"/><circle cx="646.0" cy="221.7" r="3.6"/><circle cx="640.7" cy="236.2" r="3.6"/><circle cx="607.2" cy="248.4" r="3.6"/>
</g>
<g fill="#fa4d58">
<circle cx="684.8" cy="223.2" r="3.6"/><circle cx="696.6" cy="220.2" r="3.6"/><circle cx="707.4" cy="223.2" r="3.6"/><circle cx="716.0" cy="232.0" r="3.6"/><circle cx="707.2" cy="252.8" r="3.6"/><circle cx="680.3" cy="259.1" r="3.6"/><circle cx="693.6" cy="258.4" r="3.6"/><circle cx="703.4" cy="260.4" r="3.6"/><circle cx="681.5" cy="268.4" r="3.6"/><circle cx="692.3" cy="268.4" r="3.6"/><circle cx="720.5" cy="256.6" r="3.6"/><circle cx="712.2" cy="264.1" r="3.6"/><circle cx="720.5" cy="269.7" r="3.6"/><circle cx="729.0" cy="265.4" r="3.6"/><circle cx="712.9" cy="276.7" r="3.6"/><circle cx="723.7" cy="280.0" r="3.6"/><circle cx="734.3" cy="277.5" r="3.6"/><circle cx="718.0" cy="289.8" r="3.6"/><circle cx="730.5" cy="290.0" r="3.6"/><circle cx="709.9" cy="301.8" r="3.6"/><circle cx="723.0" cy="300.6" r="3.6"/><circle cx="697.9" cy="307.6" r="3.6"/><circle cx="682.0" cy="306.4" r="3.6"/><circle cx="671.0" cy="295.0" r="3.6"/><circle cx="664.0" cy="280.0" r="3.6"/><circle cx="681.5" cy="268.4" r="3.6"/><circle cx="692.3" cy="268.4" r="3.6"/>
</g>
<g fill="#103624">
<circle cx="150.3" cy="454.0" r="3.6"/><circle cx="190.9" cy="473.5" r="3.6"/><circle cx="190.9" cy="473.5" r="3.6"/><circle cx="238.5" cy="447.1" r="3.6"/><circle cx="254.3" cy="451.4" r="3.6"/><circle cx="220.0" cy="456.0" r="3.6"/><circle cx="210.6" cy="459.8" r="3.6"/><circle cx="204.3" cy="468.4" r="3.6"/><circle cx="218.8" cy="469.2" r="3.6"/><circle cx="203.5" cy="478.1" r="3.6"/><circle cx="215.0" cy="480.1" r="3.6"/><circle cx="225.9" cy="482.4" r="3.6"/><circle cx="207.4" cy="488.2" r="3.6"/><circle cx="222.6" cy="490.8" r="3.6"/><circle cx="214.5" cy="495.8" r="3.6"/><circle cx="232.0" cy="496.6" r="3.6"/><circle cx="239.6" cy="488.2" r="3.6"/><circle cx="265.7" cy="396.4" r="3.6"/><circle cx="278.4" cy="391.8" r="3.6"/><circle cx="291.0" cy="388.0" r="3.6"/><circle cx="288.5" cy="397.4" r="3.6"/><circle cx="277.9" cy="404.5" r="3.6"/><circle cx="265.7" cy="413.4" r="3.6"/><circle cx="287.7" cy="415.2" r="3.6"/><circle cx="301.2" cy="405.8" r="3.6"/><circle cx="310.1" cy="424.8" r="3.6"/><circle cx="265.7" cy="471.2" r="3.6"/><circle cx="277.1" cy="473.5" r="3.6"/><circle cx="287.2" cy="465.9" r="3.6"/><circle cx="268.2" cy="480.1" r="3.6"/><circle cx="282.2" cy="483.1" r="3.6"/><circle cx="265.7" cy="496.3" r="3.6"/><circle cx="279.6" cy="497.1" r="3.6"/><circle cx="288.5" cy="504.7" r="3.6"/><circle cx="319.3" cy="493.0" r="3.6"/><circle cx="304.1" cy="510.8" r="3.6"/><circle cx="334.5" cy="503.1" r="3.6"/><circle cx="306.6" cy="499.3" r="3.6"/><circle cx="339.6" cy="416.2" r="3.6"/><circle cx="351.8" cy="426.3" r="3.6"/><circle cx="363.7" cy="422.0" r="3.6"/><circle cx="373.3" cy="427.1" r="3.6"/><circle cx="332.0" cy="435.9" r="3.6"/><circle cx="342.9" cy="433.4" r="3.6"/><circle cx="361.7" cy="432.1" r="3.6"/><circle cx="351.8" cy="439.7" r="3.6"/><circle cx="338.3" cy="444.3" r="3.6"/><circle cx="346.4" cy="448.6" r="3.6"/><circle cx="326.9" cy="452.4" r="3.6"/><circle cx="353.5" cy="455.0" r="3.6"/><circle cx="340.1" cy="457.5" r="3.6"/><circle cx="330.2" cy="462.6" r="3.6"/><circle cx="346.4" cy="467.1" r="3.6"/><circle cx="356.8" cy="465.1" r="3.6"/><circle cx="368.3" cy="464.6" r="3.6"/><circle cx="335.8" cy="474.5" r="3.6"/><circle cx="357.4" cy="474.0" r="3.6"/><circle cx="367.5" cy="478.5" r="3.6"/><circle cx="326.4" cy="483.6" r="3.6"/><circle cx="334.5" cy="486.7" r="3.6"/><circle cx="344.2" cy="484.1" r="3.6"/><circle cx="357.4" cy="486.2" r="3.6"/><circle cx="384.0" cy="435.4" r="3.6"/><circle cx="392.4" cy="444.3" r="3.6"/><circle cx="371.3" cy="408.5" r="3.6"/><circle cx="382.2" cy="399.2" r="3.6"/><circle cx="403.8" cy="403.7" r="3.6"/><circle cx="416.4" cy="406.3" r="3.6"/><circle cx="415.7" cy="416.9" r="3.6"/><circle cx="384.0" cy="435.4" r="3.6"/>
</g>
<g fill="#ff9922">
<circle cx="459.3" cy="335.7" r="3.6"/><circle cx="468.9" cy="339.0" r="3.6"/><circle cx="479.1" cy="344.1" r="3.6"/><circle cx="457.3" cy="346.1" r="3.6"/><circle cx="448.7" cy="353.0" r="3.6"/><circle cx="458.0" cy="358.5" r="3.6"/><circle cx="466.9" cy="357.5" r="3.6"/><circle cx="435.7" cy="364.4" r="3.6"/><circle cx="467.4" cy="367.7" r="3.6"/><circle cx="497.4" cy="356.3" r="3.6"/><circle cx="498.6" cy="363.1" r="3.6"/><circle cx="491.0" cy="369.5" r="3.6"/><circle cx="489.0" cy="374.5" r="3.6"/><circle cx="499.9" cy="374.5" r="3.6"/><circle cx="510.0" cy="368.9" r="3.6"/><circle cx="513.3" cy="377.1" r="3.6"/><circle cx="526.0" cy="376.3" r="3.6"/><circle cx="518.4" cy="385.4" r="3.6"/><circle cx="530.3" cy="381.6" r="3.6"/><circle cx="534.1" cy="385.9" r="3.6"/><circle cx="541.0" cy="379.1" r="3.6"/><circle cx="548.6" cy="372.8" r="3.6"/><circle cx="472.0" cy="384.7" r="3.6"/><circle cx="481.6" cy="385.4" r="3.6"/><circle cx="468.7" cy="394.1" r="3.6"/><circle cx="483.4" cy="394.1" r="3.6"/><circle cx="470.7" cy="401.2" r="3.6"/><circle cx="484.2" cy="406.2" r="3.6"/><circle cx="513.3" cy="398.6" r="3.6"/><circle cx="534.1" cy="398.1" r="3.6"/><circle cx="543.5" cy="399.9" r="3.6"/><circle cx="534.6" cy="407.5" r="3.6"/><circle cx="541.7" cy="410.8" r="3.6"/><circle cx="518.9" cy="411.3" r="3.6"/><circle cx="488.5" cy="417.6" r="3.6"/><circle cx="478.3" cy="423.5" r="3.6"/><circle cx="487.7" cy="426.5" r="3.6"/><circle cx="497.4" cy="422.7" r="3.6"/><circle cx="508.3" cy="422.2" r="3.6"/><circle cx="518.4" cy="421.4" r="3.6"/><circle cx="527.3" cy="420.9" r="3.6"/><circle cx="536.7" cy="423.2" r="3.6"/><circle cx="486.4" cy="435.4" r="3.6"/><circle cx="494.8" cy="432.4" r="3.6"/><circle cx="503.7" cy="436.2" r="3.6"/><circle cx="508.3" cy="431.6" r="3.6"/><circle cx="517.6" cy="430.3" r="3.6"/><circle cx="526.5" cy="429.6" r="3.6"/><circle cx="538.4" cy="432.9" r="3.6"/><circle cx="530.8" cy="436.2" r="3.6"/><circle cx="484.7" cy="444.3" r="3.6"/><circle cx="495.6" cy="442.5" r="3.6"/><circle cx="510.0" cy="442.2" r="3.6"/><circle cx="518.4" cy="438.7" r="3.6"/><circle cx="526.5" cy="443.0" r="3.6"/><circle cx="497.4" cy="450.6" r="3.6"/><circle cx="508.0" cy="450.1" r="3.6"/><circle cx="493.5" cy="462.0" r="3.6"/><circle cx="440.3" cy="394.1" r="3.6"/><circle cx="454.2" cy="395.6" r="3.6"/><circle cx="434.5" cy="410.5" r="3.6"/><circle cx="445.4" cy="438.4" r="3.6"/><circle cx="453.0" cy="448.6" r="3.6"/>
</g>
<g fill="#fc8c96">
<circle cx="434.9" cy="487.9" r="3.6"/><circle cx="429.6" cy="504.9" r="3.6"/><circle cx="422.7" cy="517.8" r="3.6"/><circle cx="434.9" cy="520.1" r="3.6"/><circle cx="409.3" cy="520.1" r="3.6"/><circle cx="421.4" cy="528.0" r="3.6"/><circle cx="374.5" cy="525.4" r="3.6"/><circle cx="406.2" cy="547.0" r="3.6"/><circle cx="382.9" cy="536.1" r="3.6"/><circle cx="344.6" cy="514.0" r="3.6"/><circle cx="356.8" cy="511.5" r="3.6"/><circle cx="334.5" cy="521.6" r="3.6"/><circle cx="337.0" cy="531.0" r="3.6"/><circle cx="331.4" cy="541.7" r="3.6"/><circle cx="343.3" cy="542.4" r="3.6"/><circle cx="329.6" cy="552.6" r="3.6"/><circle cx="339.8" cy="553.3" r="3.6"/><circle cx="353.0" cy="550.5" r="3.6"/><circle cx="363.1" cy="548.8" r="3.6"/><circle cx="372.8" cy="541.2" r="3.6"/><circle cx="385.4" cy="548.0" r="3.6"/><circle cx="374.5" cy="550.8" r="3.6"/><circle cx="335.2" cy="562.7" r="3.6"/><circle cx="347.9" cy="559.7" r="3.6"/><circle cx="358.0" cy="561.4" r="3.6"/><circle cx="367.7" cy="557.6" r="3.6"/><circle cx="382.1" cy="558.1" r="3.6"/><circle cx="374.5" cy="565.2" r="3.6"/><circle cx="344.6" cy="569.1" r="3.6"/><circle cx="354.2" cy="571.6" r="3.6"/><circle cx="365.1" cy="571.1" r="3.6"/>
</g>
<g fill="#46b258">
<circle cx="553.5" cy="452.5" r="3.6"/><circle cx="559.1" cy="458.8" r="3.6"/><circle cx="570.5" cy="459.3" r="3.6"/><circle cx="545.1" cy="461.1" r="3.6"/><circle cx="554.5" cy="467.7" r="3.6"/><circle cx="538.3" cy="472.5" r="3.6"/><circle cx="530.6" cy="482.1" r="3.6"/><circle cx="550.2" cy="480.9" r="3.6"/><circle cx="561.6" cy="478.8" r="3.6"/><circle cx="580.6" cy="488.5" r="3.6"/><circle cx="532.4" cy="492.3" r="3.6"/><circle cx="547.6" cy="493.5" r="3.6"/><circle cx="528.6" cy="499.1" r="3.6"/><circle cx="545.1" cy="503.7" r="3.6"/><circle cx="590.8" cy="501.9" r="3.6"/><circle cx="529.9" cy="507.0" r="3.6"/><circle cx="554.0" cy="507.5" r="3.6"/><circle cx="578.1" cy="504.5" r="3.6"/><circle cx="587.0" cy="511.3" r="3.6"/><circle cx="545.1" cy="515.9" r="3.6"/><circle cx="561.6" cy="513.8" r="3.6"/><circle cx="573.0" cy="513.3" r="3.6"/><circle cx="553.5" cy="519.4" r="3.6"/><circle cx="589.0" cy="520.9" r="3.6"/><circle cx="546.4" cy="525.2" r="3.6"/><circle cx="560.3" cy="524.0" r="3.6"/><circle cx="570.5" cy="524.0" r="3.6"/><circle cx="579.3" cy="521.4" r="3.6"/><circle cx="552.7" cy="533.4" r="3.6"/><circle cx="563.4" cy="535.4" r="3.6"/><circle cx="573.0" cy="535.4" r="3.6"/><circle cx="582.6" cy="530.8" r="3.6"/><circle cx="463.9" cy="478.8" r="3.6"/><circle cx="474.1" cy="478.8" r="3.6"/><circle cx="483.0" cy="488.5" r="3.6"/><circle cx="463.9" cy="497.4" r="3.6"/><circle cx="474.9" cy="501.2" r="3.6"/><circle cx="483.0" cy="499.9" r="3.6"/><circle cx="465.2" cy="508.8" r="3.6"/><circle cx="474.9" cy="513.8" r="3.6"/><circle cx="484.2" cy="516.4" r="3.6"/><circle cx="463.9" cy="520.9" r="3.6"/><circle cx="475.4" cy="524.0" r="3.6"/><circle cx="485.5" cy="527.8" r="3.6"/><circle cx="493.1" cy="521.4" r="3.6"/><circle cx="504.5" cy="512.6" r="3.6"/><circle cx="514.7" cy="505.7" r="3.6"/><circle cx="515.4" cy="518.4" r="3.6"/><circle cx="498.2" cy="530.3" r="3.6"/><circle cx="510.9" cy="529.6" r="3.6"/>
</g>
<path d="M149.0 87.3l8.7 8.7l-8.7 8.7l-8.7 -8.7z" fill="#7f55b5"/>
<path d="M140.5 100.6l8.7 8.7l-8.7 8.7l-8.7 -8.7z" fill="#7f55b5"/>
<path d="M161.0 125.3l8.7 8.7l-8.7 8.7l-8.7 -8.7z" fill="#7f55b5"/>
<path d="M220.2 94.2l8.7 8.7l-8.7 8.7l-8.7 -8.7z" fill="#a0a0a0"/>
<path d="M400.0 249.1l8.7 8.7l-8.7 8.7l-8.7 -8.7z" fill="#a0a0a0"/>
<path d="M495.0 257.3l8.7 8.7l-8.7 8.7l-8.7 -8.7z" fill="#a0a0a0"/>
<path d="M386.1 295.3l8.7 8.7l-8.7 8.7l-8.7 -8.7z" fill="#a0a0a0"/>
<path d="M440.6 294.0l8.7 8.7l-8.7 8.7l-8.7 -8.7z" fill="#a0a0a0"/>
<path d="M400.5 335.1l8.7 8.7l-8.7 8.7l-8.7 -8.7z" fill="#a0a0a0"/>
<path d="M349.6 345.3l8.7 8.7l-8.7 8.7l-8.7 -8.7z" fill="#a0a0a0"/>
<path d="M199.0 136.3l8.7 8.7l-8.7 8.7l-8.7 -8.7z" fill="#2ab88e"/>
<path d="M263.0 119.3l8.7 8.7l-8.7 8.7l-8.7 -8.7z" fill="#2ab88e"/>
<path d="M191.3 177.3l8.7 8.7l-8.7 8.7l-8.7 -8.7z" fill="#2ab88e"/>
<path d="M240.0 178.6l8.7 8.7l-8.7 8.7l-8.7 -8.7z" fill="#2ab88e"/>
<path d="M256.8 186.3l8.7 8.7l-8.7 8.7l-8.7 -8.7z" fill="#2ab88e"/>
<path d="M208.3 204.9l8.7 8.7l-8.7 8.7l-8.7 -8.7z" fill="#2ab88e"/>
<path d="M270.8 211.6l8.7 8.7l-8.7 8.7l-8.7 -8.7z" fill="#2ab88e"/>
<path d="M179.7 228.5l8.7 8.7l-8.7 8.7l-8.7 -8.7z" fill="#2ab88e"/>
<path d="M183.6 255.0l8.7 8.7l-8.7 8.7l-8.7 -8.7z" fill="#2ab88e"/>
<path d="M322.4 204.6l8.7 8.7l-8.7 8.7l-8.7 -8.7z" fill="#2db9f0"/>
<path d="M349.2 237.4l8.7 8.7l-8.7 8.7l-8.7 -8.7z" fill="#2db9f0"/>
<path d="M212.9 275.9l8.7 8.7l-8.7 8.7l-8.7 -8.7z" fill="#2db9f0"/>
<path d="M235.2 281.3l8.7 8.7l-8.7 8.7l-8.7 -8.7z" fill="#2db9f0"/>
<path d="M254.0 266.1l8.7 8.7l-8.7 8.7l-8.7 -8.7z" fill="#2db9f0"/>
<path d="M293.1 265.7l8.7 8.7l-8.7 8.7l-8.7 -8.7z" fill="#2db9f0"/>
<path d="M315.5 279.3l8.7 8.7l-8.7 8.7l-8.7 -8.7z" fill="#2db9f0"/>
<path d="M288.5 309.9l8.7 8.7l-8.7 8.7l-8.7 -8.7z" fill="#2db9f0"/>
<path d="M192.9 323.1l8.7 8.7l-8.7 8.7l-8.7 -8.7z" fill="#2db9f0"/>
<path d="M259.1 328.4l8.7 8.7l-8.7 8.7l-8.7 -8.7z" fill="#2db9f0"/>
<path d="M270.8 339.8l8.7 8.7l-8.7 8.7l-8.7 -8.7z" fill="#2db9f0"/>
<path d="M295.5 350.7l8.7 8.7l-8.7 8.7l-8.7 -8.7z" fill="#2db9f0"/>
<path d="M341.3 100.3l8.7 8.7l-8.7 8.7l-8.7 -8.7z" fill="#c83caa"/>
<path d="M418.3 144.6l8.7 8.7l-8.7 8.7l-8.7 -8.7z" fill="#7652b0"/>
<path d="M446.2 140.8l8.7 8.7l-8.7 8.7l-8.7 -8.7z" fill="#7652b0"/>
<path d="M485.5 139.5l8.7 8.7l-8.7 8.7l-8.7 -8.7z" fill="#7652b0"/>
<path d="M457.6 164.8l8.7 8.7l-8.7 8.7l-8.7 -8.7z" fill="#7652b0"/>
<path d="M405.7 180.6l8.7 8.7l-8.7 8.7l-8.7 -8.7z" fill="#7652b0"/>
<path d="M507.6 173.0l8.7 8.7l-8.7 8.7l-8.7 -8.7z" fill="#7652b0"/>
<path d="M441.2 202.5l8.7 8.7l-8.7 8.7l-8.7 -8.7z" fill="#7652b0"/>
<path d="M479.0 198.8l8.7 8.7l-8.7 8.7l-8.7 -8.7z" fill="#7652b0"/>
<path d="M573.0 167.1l8.7 8.7l-8.7 8.7l-8.7 -8.7z" fill="#7652b0"/>
<path d="M573.5 217.3l8.7 8.7l-8.7 8.7l-8.7 -8.7z" fill="#a9ae34"/>
<path d="M536.6 301.3l8.7 8.7l-8.7 8.7l-8.7 -8.7z" fill="#a9ae34"/>
<path d="M568.8 298.5l8.7 8.7l-8.7 8.7l-8.7 -8.7z" fill="#a9ae34"/>
<path d="M580.2 316.3l8.7 8.7l-8.7 8.7l-8.7 -8.7z" fill="#a9ae34"/>
<path d="M581.4 332.7l8.7 8.7l-8.7 8.7l-8.7 -8.7z" fill="#a9ae34"/>
<path d="M591.6 344.2l8.7 8.7l-8.7 8.7l-8.7 -8.7z" fill="#a9ae34"/>
<path d="M606.8 315.0l8.7 8.7l-8.7 8.7l-8.7 -8.7z" fill="#a9ae34"/>
<path d="M599.2 294.7l8.7 8.7l-8.7 8.7l-8.7 -8.7z" fill="#a9ae34"/>
<path d="M656.7 178.0l8.7 8.7l-8.7 8.7l-8.7 -8.7z" fill="#a83e44"/>
<path d="M664.8 202.4l8.7 8.7l-8.7 8.7l-8.7 -8.7z" fill="#a83e44"/>
<path d="M618.1 221.9l8.7 8.7l-8.7 8.7l-8.7 -8.7z" fill="#a83e44"/>
<path d="M692.8 238.9l8.7 8.7l-8.7 8.7l-8.7 -8.7z" fill="#fa4d58"/>
<path d="M689.1 278.8l8.7 8.7l-8.7 8.7l-8.7 -8.7z" fill="#fa4d58"/>
<path d="M214.5 375.0l8.7 8.7l-8.7 8.7l-8.7 -8.7z" fill="#1e73a0"/>
<path d="M207.0 389.4l8.7 8.7l-8.7 8.7l-8.7 -8.7z" fill="#1e73a0"/>
<path d="M173.1 455.4l8.7 8.7l-8.7 8.7l-8.7 -8.7z" fill="#103624"/>
<path d="M239.6 458.0l8.7 8.7l-8.7 8.7l-8.7 -8.7z" fill="#103624"/>
<path d="M277.5 423.9l8.7 8.7l-8.7 8.7l-8.7 -8.7z" fill="#103624"/>
<path d="M303.0 438.5l8.7 8.7l-8.7 8.7l-8.7 -8.7z" fill="#103624"/>
<path d="M303.8 475.0l8.7 8.7l-8.7 8.7l-8.7 -8.7z" fill="#103624"/>
<path d="M310.5 467.6l8.7 8.7l-8.7 8.7l-8.7 -8.7z" fill="#103624"/>
<path d="M368.3 439.4l8.7 8.7l-8.7 8.7l-8.7 -8.7z" fill="#103624"/>
<path d="M396.7 413.8l8.7 8.7l-8.7 8.7l-8.7 -8.7z" fill="#103624"/>
<path d="M483.9 353.9l8.7 8.7l-8.7 8.7l-8.7 -8.7z" fill="#ff9922"/>
<path d="M503.7 397.2l8.7 8.7l-8.7 8.7l-8.7 -8.7z" fill="#ff9922"/>
<path d="M451.5 408.7l8.7 8.7l-8.7 8.7l-8.7 -8.7z" fill="#ff9922"/>
<path d="M473.5 434.8l8.7 8.7l-8.7 8.7l-8.7 -8.7z" fill="#ff9922"/>
<path d="M415.8 487.7l8.7 8.7l-8.7 8.7l-8.7 -8.7z" fill="#fc8c96"/>
<path d="M391.5 511.8l8.7 8.7l-8.7 8.7l-8.7 -8.7z" fill="#fc8c96"/>
<path d="M357.5 523.3l8.7 8.7l-8.7 8.7l-8.7 -8.7z" fill="#fc8c96"/>
<path d="M510.3 465.9l8.7 8.7l-8.7 8.7l-8.7 -8.7z" fill="#46b258"/>
<path d="M498.2 486.8l8.7 8.7l-8.7 8.7l-8.7 -8.7z" fill="#46b258"/>
<path d="M565.4 486.9l8.7 8.7l-8.7 8.7l-8.7 -8.7z" fill="#46b258"/>
<path d="M627.5 477.7l8.7 8.7l-8.7 8.7l-8.7 -8.7z" fill="#964814"/>
<text x="45.1" y="46.7" text-anchor="start" textLength="206.6" lengthAdjust="spacingAndGlyphs">Carotenoid biosynthesis</text><text x="366.5" y="59.9" text-anchor="start" textLength="140.0" lengthAdjust="spacingAndGlyphs">DNA integration,</text><text x="386.2" y="78.7" text-anchor="start" textLength="194.8" lengthAdjust="spacingAndGlyphs">response to antibiotics</text><text x="438.4" y="116.4" text-anchor="start" textLength="143.5" lengthAdjust="spacingAndGlyphs">rRNA processing</text><text x="75.9" y="217.5" text-anchor="start" textLength="59.8" lengthAdjust="spacingAndGlyphs">Protein</text><text x="32.5" y="238.4" text-anchor="start" textLength="103.2" lengthAdjust="spacingAndGlyphs">metabolism,</text><text x="43.5" y="259.0" text-anchor="start" textLength="86.9" lengthAdjust="spacingAndGlyphs">TCA cycle</text><text x="59.4" y="319.0" text-anchor="start" textLength="95.7" lengthAdjust="spacingAndGlyphs">Tryptophan</text><text x="44.9" y="339.9" text-anchor="start" textLength="105.8" lengthAdjust="spacingAndGlyphs">metabolism,</text><text x="20.9" y="360.4" text-anchor="start" textLength="134.2" lengthAdjust="spacingAndGlyphs">oxidative stress</text><text x="87.8" y="400.1" text-anchor="start" textLength="65.8" lengthAdjust="spacingAndGlyphs">Lactose</text><text x="61.7" y="419.6" text-anchor="start" textLength="97.1" lengthAdjust="spacingAndGlyphs">metabolism</text><text x="128.0" y="521.0" text-anchor="start" textLength="140.0" lengthAdjust="spacingAndGlyphs">Transmembrane</text><text x="126.5" y="541.6" text-anchor="start" textLength="76.8" lengthAdjust="spacingAndGlyphs">transport</text><text x="285.5" y="592.5" text-anchor="start" textLength="181.2" lengthAdjust="spacingAndGlyphs">Glycerol metabolism,</text><text x="275.1" y="612.8" text-anchor="start" textLength="201.7" lengthAdjust="spacingAndGlyphs">Glutamate biosynthesis</text><text x="647.4" y="153.9" text-anchor="start" textLength="116.5" lengthAdjust="spacingAndGlyphs">Carbohydrate</text><text x="689.4" y="175.1" text-anchor="start" textLength="75.4" lengthAdjust="spacingAndGlyphs">transport</text><text x="664.2" y="344.1" text-anchor="start" textLength="116.0" lengthAdjust="spacingAndGlyphs">Pathogenesis</text><text x="648.0" y="390.4" text-anchor="start" textLength="90.7" lengthAdjust="spacingAndGlyphs">Ribosome,</text><text x="631.5" y="409.9" text-anchor="start" textLength="88.4" lengthAdjust="spacingAndGlyphs">translation</text><text x="546.8" y="444.7" text-anchor="start" textLength="147.3" lengthAdjust="spacingAndGlyphs">ATP biosynthesis</text><text x="643.4" y="525.1" text-anchor="start" textLength="114.1" lengthAdjust="spacingAndGlyphs">Phosphonate</text><text x="642.6" y="546.1" text-anchor="start" textLength="76.5" lengthAdjust="spacingAndGlyphs">transport</text><text x="524.6" y="557.6" text-anchor="start" textLength="90.3" lengthAdjust="spacingAndGlyphs">Nucleotide</text><text x="522.6" y="577.8" text-anchor="start" textLength="97.1" lengthAdjust="spacingAndGlyphs">metabolism</text>
</svg></body></html>
